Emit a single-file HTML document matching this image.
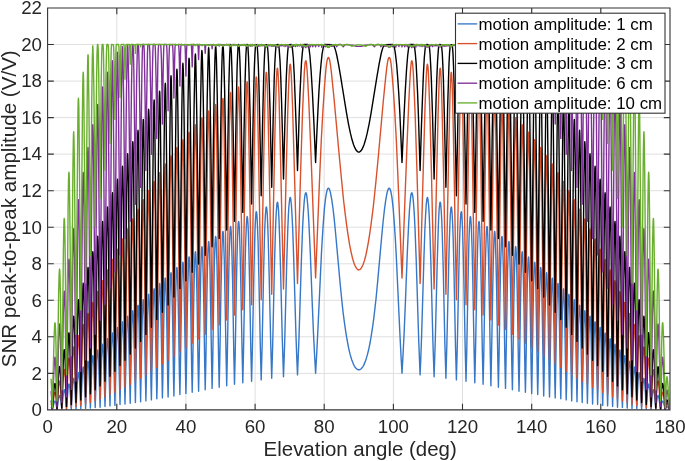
<!DOCTYPE html>
<html><head><meta charset="utf-8"><title>SNR peak-to-peak amplitude</title>
<style>
html,body{margin:0;padding:0;background:#fff;}
body{width:685px;height:461px;overflow:hidden;}
svg{display:block;will-change:transform;}
text{font-family:"Liberation Sans",sans-serif;fill:#262626;}
.tk{font-size:18.7px;}
.lb{font-size:20.6px;}
.lg{font-size:16.85px;fill:#000;}
</style></head><body>
<svg width="685" height="461" viewBox="0 0 685 461">
<rect x="0" y="0" width="685" height="461" fill="#fff"/>
<path d="M116.8 8 V409.9M185.9 8 V409.9M255.1 8 V409.9M324.2 8 V409.9M393.4 8 V409.9M462.5 8 V409.9M531.7 8 V409.9M600.8 8 V409.9M47.6 373.4 H670M47.6 336.8 H670M47.6 300.3 H670M47.6 263.8 H670M47.6 227.2 H670M47.6 190.7 H670M47.6 154.1 H670M47.6 117.6 H670M47.6 81.1 H670M47.6 44.5 H670" stroke="#dfdfdf" stroke-width="1" fill="none"/>
<clipPath id="cp"><rect x="47.6" y="8.0" width="622.4" height="401.9"/></clipPath>
<g clip-path="url(#cp)" fill="none" stroke-linejoin="round" stroke-linecap="butt">
<path d="M51.1 406.8L51.7 407.8L52.3 409.9L54.1 402.6L54.6 401.4L54.9 401.1L55.1 401.1L55.3 401.4L55.6 401.8L56 403.4L57 409.8L58.6 398.3L59.1 396.1L59.4 395.6L59.6 395.4L59.9 395.7L60.1 396.4L60.6 398.9L61.1 402.9L61.8 409.7L63.3 393.9L63.8 390.8L64 390L64.3 389.7L64.5 390L64.8 390.9L65.3 394.3L65.8 399.7L66.5 409.5L68 389.5L68.5 385.4L68.7 384.3L69 384L69.2 384.4L69.5 385.4L70 389.7L70.5 396.1L71.3 409.3L72.2 392.8L72.7 384.9L73.2 379.9L73.5 378.7L73.7 378.3L74 378.8L74.2 380.2L74.7 385.4L75.2 393.2L76 409.1L77.4 380.6L78 374.6L78.2 373.1L78.5 372.6L78.7 373.1L79 374.6L79.5 380.6L80 390L80.8 408.8L82.2 376.1L82.7 369.2L83 367.5L83.2 366.9L83.5 367.4L83.7 369.2L84.2 376L84.7 386.6L85.6 408.4L87 371.4L87.5 363.8L87.8 361.8L88 361.2L88.3 361.9L88.5 363.9L89 371.5L89.5 383L90.4 408.1L91.8 366.8L92.4 358.4L92.6 356.2L92.9 355.6L93.1 356.2L93.4 358.5L93.9 366.9L94.3 379.5L95.2 407.6L96.7 362.1L97.2 352.9L97.5 350.6L97.6 350L97.7 349.9L98 350.7L98.2 353.1L98.7 362.3L100.1 407.2L101.6 357.7L102.1 347.6L102.4 345L102.6 344.2L102.8 345L103.1 347.6L103.6 357.4L105 406.6L106.5 353.3L107 342.1L107.3 339.4L107.4 338.8L107.5 338.6L107.8 339.5L108 342.3L108.5 352.9L110 405.9L111.4 348.5L112 336.9L112.2 333.9L112.5 333L112.6 333.2L112.7 333.8L113 336.7L113.5 348.3L114.9 405.4L116.4 343.9L117 331.3L117.2 328.3L117.4 327.6L117.5 327.4L117.7 328.4L118 331.5L118.5 343.8L120 404.6L121.5 339.1L122 325.9L122.3 322.8L122.4 322L122.5 321.8L122.8 322.8L123 326.1L123.6 339L125 404.1L126.6 334.3L127.1 320.6L127.4 317.2L127.5 316.5L127.6 316.2L127.8 316.5L127.9 317.5L128.1 321L128.7 334.7L130.2 403.3L131.7 330.3L132.3 315.6L132.5 312L132.7 311L132.8 310.7L132.9 311L133 311.9L133.3 315.5L133.8 329.6L135.4 402.6L136.9 325.3L137.5 310.2L137.7 306.5L137.9 305.5L138 305.2L138.1 305.5L138.3 306.4L138.5 310.2L139.1 325.3L140.6 401.8L142.2 321L142.8 304.8L143 301L143.2 300L143.3 299.7L143.4 300L143.6 301L143.8 304.8L144.3 320.4L145.9 400.9L147.6 316.2L148.1 299.6L148.4 295.6L148.5 294.6L148.7 294.3L148.8 294.5L148.9 295.5L149.2 299.7L149.7 315.8L150.3 341.1L151 386.1L151.4 399.9L153 311.8L153.6 294.6L153.8 290.2L154 289.2L154.1 288.8L154.2 289.1L154.4 290.1L154.6 294.3L155.2 311.4L156.8 398.8L157.2 384.1L158 334.2L158.5 306.9L159.1 289L159.4 284.7L159.5 283.7L159.6 283.4L159.8 283.7L159.9 284.8L160.2 289.2L160.7 306.7L161.3 333.1L162.1 382.1L162.4 397.9L162.8 381.2L163.6 330.3L164.2 302.5L164.7 284.1L165 279.6L165.1 278.4L165.3 278.1L165.4 278.5L165.6 279.6L165.8 284.2L166.4 302L166.9 328.9L167.7 379.7L168.1 397L168.5 378.4L169.3 326.7L169.9 298.3L170.5 279L170.7 274.3L170.9 273.1L171 272.7L171.2 273.1L171.3 274.2L171.6 278.7L172.1 297.1L172.7 324.1L173.5 377.6L173.9 396L174.3 376.3L175.2 321.9L175.7 293.3L176.3 273.9L176.6 268.9L176.8 267.8L176.9 267.4L177 267.8L177.2 269L177.5 273.5L178 292.6L178.6 321L179.4 375L179.9 394.6L180.3 374.6L181.2 317.7L181.7 288.2L182.3 268.7L182.6 263.8L182.8 262.6L182.9 262.2L183 262.5L183.2 263.6L183.5 268.4L184.1 288.2L184.6 316.8L185.5 372.2L185.9 393.6L186.4 372.4L187.3 313.1L187.9 283.5L188.5 263.5L188.8 258.6L188.9 257.3L189.1 256.9L189.2 257.3L189.4 258.6L189.7 263.7L190.3 283.9L190.8 312.5L191.7 370.1L192.2 392.3L192.7 369.4L193.6 309.1L194.2 279.4L194.8 258.6L195.1 253.4L195.3 252.1L195.4 251.7L195.5 252.1L195.7 253.4L196 258.3L196.6 278.7L197.2 308L198.1 367.5L198.6 391.2L199.1 367.1L200.1 305.8L200.7 275.2L201.3 253.7L201.6 248.4L201.8 247.1L201.9 246.6L202.1 247L202.2 248.3L202.5 253.5L203.2 274.7L203.8 304L204.7 364.2L205.2 389.8L205.8 364.7L206.8 300.8L207.4 270.6L208 248.7L208.4 243.2L208.5 241.9L208.7 241.5L208.8 241.9L209 243.1L209.3 248.5L210 270L210.5 299.9L211.6 362.4L212.1 388.4L212.7 362.9L213.7 296.9L214.3 266.1L215 243.6L215.3 238.2L215.5 236.8L215.7 236.4L215.8 236.8L216 238.2L216.3 243.7L217 265.4L217.6 295.6L218.6 359.2L219.2 387.2L219.8 359.2L220.9 293.2L221.6 261.3L222.3 238.7L222.6 233.1L222.8 231.8L222.9 231.4L223.1 231.7L223.3 233L223.6 238.4L224.3 260.5L224.9 290.8L226.1 356.9L226.7 385.8L227.3 356.8L228.5 288.6L229.1 257.4L229.9 234L230.2 228.3L230.4 226.9L230.6 226.4L230.7 226.8L230.9 228L231.3 233.5L231.6 242.7L232 256L232.7 286.2L233.8 354.2L234.5 384.3L235.2 354.5L236.4 284.6L237.1 252.8L237.5 238.9L237.9 229.2L238.2 223.4L238.4 221.9L238.6 221.4L238.8 221.9L239 223.3L239.4 228.9L239.7 238.3L240.1 251.9L240.8 282.7L242.1 351.8L242.8 382.7L243.5 351.8L244.8 280.2L245.5 248.2L246 234.3L246.4 224.3L246.8 218.5L247 217L247.2 216.6L247.4 217L247.6 218.5L248 224.2L248.4 233.6L248.8 247.1L249.5 277.8L250.8 348.9L251.6 381.3L252.4 349.1L253.8 276L254.6 244.2L255 229.8L255.5 219.9L255.9 213.8L256.1 212.2L256.3 211.7L256.5 212.1L256.8 213.6L257.2 219.5L257.6 229.2L258.1 243L258.8 273.3L260.3 345.8L261.2 379.9L262.1 346.5L263.6 271.9L264.4 239.5L264.9 225.2L265.4 214.9L265.9 208.9L266.1 207.4L266.3 206.9L266.5 207.4L266.8 208.9L267.3 214.7L267.7 224.7L268.2 238.5L269 269L270.7 342.6L271.7 378.2L272.7 344.3L274.4 267.3L275.3 235.4L275.8 220.9L276.4 210.5L276.9 204.2L277.2 202.7L277.4 202.2L277.7 202.6L277.9 204.1L278.5 209.8L279 219.6L279.5 233.6L280.4 263.7L282.3 339.6L283.5 376.7L284.7 341.7L286.7 263.5L287.7 231.7L288.3 216.9L288.9 206.2L289.6 199.7L289.9 198.1L290 197.6L290.2 197.5L290.3 197.6L290.5 197.9L290.8 199.3L291.4 205L292 214.7L292.7 228.8L293.7 258.8L296 336.3L296.8 358.2L297.5 374.9L298.9 340.1L301.4 259.8L302.6 227.9L303.4 212.6L304.2 201.6L304.6 197.9L305 195.1L305.4 193.4L305.6 193L305.8 192.8L306 192.9L306.2 193.2L306.6 194.6L306.9 196.9L307.3 200.3L308.1 209.8L308.9 223.1L310.3 252.7L312.3 304.9L313.4 331.5L314.6 355.4L315.6 373.2L316.6 355.7L317.7 333.8L321.4 254.4L322.3 238.2L323.2 224.6L324.4 208.6L325.1 202.3L325.7 197.3L326.4 193.4L327 190.6L327.7 188.8L328 188.4L328.4 188.2L328.6 188.3L328.9 188.5L329.5 189.4L330 191.1L330.6 193.3L331.8 199.8L333.1 209.2L334.3 219.8L335.6 233.2L340.1 283.3L342 302.3L343.2 313.3L344.5 323.2L345.8 332.1L347.1 340L348.6 347.8L350.1 354.4L351.7 359.8L353.4 364.1L354.3 365.8L355.1 367.2L356 368.3L356.9 369.1L357.8 369.6L358.7 369.8L359.6 369.7L360.5 369.3L361.2 368.7L362 367.8L362.7 366.8L363.5 365.6L364.9 362.4L366.3 358.4L367.7 353.6L369 348L370.3 341.5L371.5 334.1L372.7 326.4L373.8 318.1L376 299L377.6 282.1L381.9 234.3L383.2 220.8L384.4 210L385.7 200.3L386.9 193.6L387.5 191.2L388.1 189.6L388.6 188.6L388.9 188.3L389.2 188.2L389.5 188.4L389.9 188.8L390.6 190.5L391.2 193.3L391.9 197.2L392.5 202.3L393.2 208.6L394.4 224.6L395.3 238.2L396.2 254.4L399.9 333.8L401 355.7L402 373.2L403 355.4L404.2 331.5L405.3 304.9L407.3 252.7L408.7 223.1L409.5 209.8L410.3 200.3L410.7 196.9L411 194.6L411.4 193.2L411.6 192.9L411.8 192.8L412 193L412.2 193.4L412.6 195.1L413 197.9L413.4 201.6L414.2 212.6L415 227.9L416.2 259.8L418.7 340.1L420.1 374.9L420.8 358.2L421.6 336.3L423.9 258.8L424.9 228.8L425.6 214.7L426.2 205L426.8 199.3L427.1 197.9L427.3 197.6L427.4 197.5L427.6 197.6L427.7 198.1L428 199.7L428.7 206.2L429.3 216.9L429.9 231.7L430.9 263.5L432.9 341.7L434.1 376.7L435.3 339.6L437.2 263.7L438.1 233.6L438.6 219.6L439.1 209.8L439.7 204.1L439.9 202.6L440.2 202.2L440.4 202.7L440.7 204.2L441.2 210.5L441.8 220.9L442.3 235.4L443.2 267.3L444.9 344.3L445.9 378.2L446.9 342.6L448.6 269L449.4 238.5L449.9 224.7L450.3 214.7L450.8 208.9L451.1 207.4L451.3 206.9L451.5 207.4L451.7 208.9L452.2 214.9L452.7 225.2L453.2 239.5L454 271.9L455.5 346.5L456.4 379.9L457.3 345.8L458.8 273.3L459.5 243L460 229.2L460.4 219.5L460.8 213.6L461.1 212.1L461.3 211.7L461.5 212.2L461.7 213.8L462.1 219.9L462.6 229.8L463 244.2L463.8 276L465.2 349.1L466 381.3L466.8 348.9L468.1 277.8L468.8 247.1L469.2 233.6L469.6 224.2L470 218.5L470.2 217L470.4 216.6L470.6 217L470.8 218.5L471.2 224.3L471.6 234.3L472.1 248.2L472.8 280.2L474.1 351.8L474.8 382.7L475.5 351.8L476.8 282.7L477.5 251.9L477.9 238.3L478.2 228.9L478.6 223.3L478.8 221.9L479 221.4L479.2 221.9L479.4 223.4L479.7 229.2L480.1 238.9L480.5 252.8L481.2 284.6L482.4 354.5L483.1 384.3L483.8 354.2L484.9 286.2L485.6 256L486 242.7L486.3 233.5L486.7 228L486.9 226.8L487 226.4L487.2 226.9L487.4 228.3L487.7 234L488.5 257.4L489.1 288.6L490.3 356.8L490.9 385.8L491.5 356.9L492.7 290.8L493.3 260.5L494 238.4L494.3 233L494.5 231.7L494.7 231.4L494.8 231.8L495 233.1L495.3 238.7L496 261.3L496.7 293.2L497.8 359.2L498.4 387.2L499 359.2L500 295.6L500.6 265.4L501.3 243.7L501.6 238.2L501.8 236.8L501.9 236.4L502.1 236.8L502.3 238.2L502.6 243.6L503.3 266.1L503.9 296.9L504.9 362.9L505.5 388.4L506 362.4L507.1 299.9L507.6 270L508.3 248.5L508.6 243.1L508.8 241.9L508.9 241.5L509.1 241.9L509.2 243.2L509.6 248.7L510.2 270.6L510.8 300.8L511.8 364.7L512.4 389.8L512.9 364.2L513.8 304L514.4 274.7L515.1 253.5L515.4 248.3L515.5 247L515.7 246.6L515.8 247.1L516 248.4L516.3 253.7L516.9 275.2L517.5 305.8L518.5 367.1L519 391.2L519.5 367.5L520.4 308L521 278.7L521.6 258.3L521.9 253.4L522.1 252.1L522.2 251.7L522.3 252.1L522.5 253.4L522.8 258.6L523.4 279.4L524 309.1L524.9 369.4L525.4 392.3L525.9 370.1L526.8 312.5L527.3 283.9L527.9 263.7L528.2 258.6L528.4 257.3L528.5 256.9L528.7 257.3L528.8 258.6L529.1 263.5L529.7 283.5L530.3 313.1L531.2 372.4L531.7 393.6L532.1 372.2L533 316.8L533.5 288.2L534.1 268.4L534.4 263.6L534.6 262.5L534.7 262.2L534.8 262.6L535 263.8L535.3 268.7L535.9 288.2L536.4 317.7L537.3 374.6L537.7 394.6L538.2 375L539 321L539.6 292.6L540.1 273.5L540.4 269L540.6 267.8L540.7 267.4L540.8 267.8L541 268.9L541.3 273.9L541.9 293.3L542.4 321.9L543.3 376.3L543.7 396L544.1 377.6L544.9 324.1L545.5 297.1L546 278.7L546.3 274.2L546.4 273.1L546.6 272.7L546.7 273.1L546.9 274.3L547.1 279L547.7 298.3L548.3 326.7L549.1 378.4L549.5 397L549.9 379.7L550.7 328.9L551.2 302L551.8 284.2L552 279.6L552.2 278.5L552.3 278.1L552.5 278.4L552.6 279.6L552.9 284.1L553.4 302.5L554 330.3L554.8 381.2L555.2 397.9L555.5 382.1L556.3 333.1L556.9 306.7L557.4 289.2L557.7 284.8L557.8 283.7L558 283.4L558.1 283.7L558.2 284.7L558.5 289L559.1 306.9L559.6 334.2L560.4 384.1L560.8 398.8L562.4 311.4L563 294.3L563.2 290.1L563.4 289.1L563.5 288.8L563.6 289.2L563.8 290.2L564 294.6L564.6 311.8L566.2 399.9L566.6 386.1L567.3 341.1L567.9 315.8L568.4 299.7L568.7 295.5L568.8 294.5L568.9 294.3L569.1 294.6L569.2 295.6L569.5 299.6L570 316.2L571.7 400.9L573.3 320.4L573.8 304.8L574 301L574.2 300L574.3 299.7L574.4 300L574.6 301L574.8 304.8L575.4 321L577 401.8L578.5 325.3L579.1 310.2L579.3 306.4L579.5 305.5L579.6 305.2L579.7 305.5L579.9 306.5L580.1 310.2L580.7 325.3L582.2 402.6L583.8 329.6L584.3 315.5L584.6 311.9L584.7 311L584.8 310.7L584.9 311L585.1 312L585.3 315.6L585.9 330.3L587.4 403.3L588.9 334.7L589.5 321L589.7 317.5L589.8 316.5L590 316.2L590.1 316.5L590.2 317.2L590.5 320.6L591 334.3L592.6 404.1L594 339L594.6 326.1L594.8 322.8L595.1 321.8L595.2 322L595.3 322.8L595.6 325.9L596.1 339.1L597.6 404.6L599.1 343.8L599.6 331.5L599.9 328.4L600.1 327.4L600.2 327.6L600.4 328.3L600.6 331.3L601.2 343.9L602.7 405.4L604.1 348.3L604.6 336.7L604.9 333.8L605 333.2L605.1 333L605.4 333.9L605.6 336.9L606.2 348.5L607.6 405.9L609.1 352.9L609.6 342.3L609.8 339.5L610.1 338.6L610.2 338.8L610.3 339.4L610.6 342.1L611.1 353.3L612.6 406.6L614 357.4L614.5 347.6L614.8 345L615 344.2L615.2 345L615.5 347.6L616 357.7L617.5 407.2L618.9 362.3L619.4 352.9L619.7 350.6L619.8 350L619.9 349.9L620.1 350.7L620.4 353.1L620.9 362.5L622.4 407.6L623.3 379.5L623.7 366.9L624.2 358.5L624.5 356.2L624.7 355.6L625 356.2L625.2 358.4L625.8 366.8L627.2 408.1L628.1 383L628.6 371.5L629.1 363.9L629.3 361.9L629.6 361.2L629.8 361.8L630.1 363.8L630.6 371.4L632 408.4L632.9 386.6L633.4 376L633.9 369.2L634.1 367.4L634.4 366.9L634.6 367.5L634.9 369.2L635.4 376.1L636.8 408.8L637.6 390L638.1 380.6L638.6 374.6L638.9 373.1L639.1 372.6L639.4 373.1L639.6 374.6L640.2 380.6L641.6 409.1L642.4 392.9L642.9 385.2L643.4 380.1L643.7 378.7L643.9 378.3L644.1 378.7L644.4 380L644.9 385.1L645.4 392.8L646.3 409.3L647.1 396.1L647.6 389.7L648.1 385.4L648.4 384.3L648.6 384L648.9 384.4L649.1 385.5L649.7 389.7L651.1 409.5L651.8 399.7L652.3 394.3L652.8 390.9L653.1 390L653.3 389.7L653.6 390L653.8 390.8L654.4 394.1L655.8 409.7L656.5 402.8L657 398.8L657.5 396.3L657.8 395.7L658 395.4L658.3 395.6L658.5 396.2L659 398.5L660.6 409.8L661.2 405.7L661.6 403.2L662.1 401.6L662.4 401.2L662.6 401.1L662.8 401.2L663.1 401.5L663.6 402.8L665.3 409.9L665.7 408.3L666.1 407.4L666.5 406.8L667 406.6L667.3 406.7L667.7 407.1L669.3 409.5L669.6 409.8L670 409.9" stroke="#3677c8" stroke-width="1.4"/>
<path d="M51.1 403.6L51.4 404.4L51.6 405.6L52.3 409.8L54.1 395.4L54.6 392.9L54.8 392.4L55 392.3L55.1 392.4L55.3 392.8L55.5 393.7L56 396.8L57 409.5L58.6 386.7L59.1 382.3L59.4 381.3L59.5 381L59.6 381L59.9 381.6L60.1 382.8L60.6 387.6L61.1 395L61.8 409L63.3 377.7L63.8 371.6L64 370.1L64.2 369.7L64.3 369.6L64.5 370.3L64.8 371.9L65.3 378.4L65.7 388.2L66.5 408.4L68 368.8L68.5 360.8L68.7 358.9L68.9 358.4L69 358.3L69.2 359L69.5 361.1L70 369.2L71.3 407.5L72.7 360.1L73.2 350.2L73.5 347.8L73.7 347L73.9 347.8L74.2 350.2L74.7 359.7L76 406.6L77.5 350.6L78 339.4L78.2 336.7L78.5 335.7L78.7 336.7L78.9 339.5L79.4 350.6L80.8 405.5L82.2 341.6L82.7 328.8L83 325.6L83.2 324.5L83.4 324.8L83.5 325.6L83.7 328.8L84.2 341.3L85.6 404L87.1 332.3L87.6 318.1L87.8 314.6L87.9 313.7L88 313.4L88.3 314.7L88.5 318.3L89 332.5L90.4 402.6L91.9 323.3L92.4 307.6L92.6 303.7L92.7 302.7L92.9 302.4L93.1 303.6L93.3 307.4L93.8 322.6L95.2 400.9L96.7 314L97.2 297L97.5 292.8L97.7 291.5L97.8 291.8L97.9 292.9L98.2 297.1L98.7 313.7L100.1 399.1L101.6 304.6L102.1 286.4L102.4 282L102.6 280.7L102.8 282.1L103.1 286.5L103.5 304.2L105 396.9L106.5 296L107 276.4L107.3 271.6L107.5 270L107.6 270.3L107.7 271.4L108 275.9L108.5 294.6L109.6 375.9L110 394.5L111.5 286.8L112 266.1L112.2 261.1L112.5 259.5L112.7 260.9L112.9 265.8L113.4 285.6L114.6 371.2L114.9 392.3L116.5 277.2L117 256.2L117.2 250.9L117.5 249.1L117.6 249.4L117.7 250.6L117.9 255.6L118.4 276.2L119.6 366.9L120 389.5L121.6 268.2L122 246.3L122.3 240.7L122.5 238.9L122.6 239.2L122.7 240.4L123 245.7L123.5 267.2L125 387.2L125.5 358.3L126.7 259.3L127.1 236.6L127.4 230.8L127.5 229.3L127.6 228.9L127.9 230.6L128.1 236.4L128.6 258.1L129.7 355.4L130.2 384.3L130.6 352.9L131.8 250.8L132.3 227.1L132.5 221L132.8 219L133 220.7L133.2 226.5L133.7 249.8L134.9 350L135.4 381.4L135.8 348L137 241.9L137.5 217.6L137.8 211.4L137.9 209.8L138 209.3L138.2 211.1L138.5 217.1L139 241L140.1 343.4L140.6 378.3L141.1 342.6L142.3 232.9L142.8 208.2L143.1 201.9L143.2 200.3L143.3 199.8L143.5 201.7L143.8 207.8L144.2 232.2L145.4 337.8L145.9 374.9L146.4 337.4L147.7 224.5L148.2 199.2L148.4 192.7L148.7 190.5L148.9 192.3L149.1 198.4L149.6 223L150.8 332.9L151.4 371.3L151.9 331.4L153.1 215.8L153.6 190.3L153.9 183.7L154.1 181.4L154.3 183.3L154.6 189.4L155.1 214.2L156.8 367.4L157.4 326.9L158.7 207.5L159.1 181.7L159.4 175L159.6 172.6L159.8 173.1L159.9 174.6L160.1 181L160.6 206.3L161.9 323.6L162.4 363.8L164.3 200.2L164.8 173.1L165 166.4L165.3 164L165.4 164.4L165.5 166L165.8 172.3L166.2 197.5L168.1 360.3L170 191.1L170.5 164.4L170.8 157.8L171 155.6L171.1 156.1L171.3 157.8L171.5 164.2L172 189.5L173.9 356.3L175.9 184.5L176.4 157.2L176.6 149.9L176.9 147.5L177 147.9L177.1 149.4L177.4 155.6L177.9 181.5L179.9 351.8L180.4 307.8L181.9 175.4L182.4 148.8L182.7 141.8L182.9 139.7L183 140.2L183.1 141.7L183.4 148.5L183.9 174.8L185.9 347.8L188 168.5L188.6 141.2L188.8 134.3L189.1 132.1L189.2 132.5L189.3 134L189.6 140.6L190.1 167.3L192.2 343.3L194.3 161.5L194.9 134.3L195.1 127.2L195.4 124.8L195.5 125.2L195.6 126.6L195.9 132.9L196.4 158.7L198.6 339L200.9 153.5L201.4 126.5L201.7 119.9L201.8 118.2L201.9 117.7L202 118.2L202.2 119.9L202.4 126.5L203 152.3L205.2 334.2L207.6 147.4L208.1 120.5L208.4 113.3L208.6 111L208.8 111.3L208.9 112.8L209.2 119.4L209.7 145.1L212.1 329.5L214.5 140.7L215.1 113.8L215.4 106.9L215.5 105.2L215.6 104.5L215.8 104.9L215.9 106.4L216.2 112.7L216.7 138.3L219.2 325L221.8 133.9L222.4 107.3L222.6 100.8L222.8 99L222.9 98.4L223.1 98.8L223.2 100.2L223.5 106.3L224.1 131.6L226.7 320.1L229.4 127.7L230 101.5L230.3 94.8L230.4 93.1L230.6 92.5L230.7 93L230.8 94.4L231.1 100.7L231.7 125.8L234.5 315L237.4 122.1L238 95.7L238.3 89.1L238.5 87.5L238.6 87L238.7 87.4L238.9 88.9L239.2 94.8L239.8 119L242.8 309.7L245 169.5L245.9 115.9L246.5 90.5L246.8 83.9L247 82.3L247.1 81.8L247.3 82.2L247.5 83.7L247.8 89.6L248.4 113.7L249.3 162.1L251.6 304.7L253.8 170.6L254.8 116L255.6 86.8L255.9 79.5L256.1 77.7L256.3 76.9L256.5 77.4L256.7 78.9L257 85.5L257.7 112.1L258.7 162.8L261.2 299.7L263.5 170.6L264.6 115.6L265.1 94.8L265.5 83L265.9 75.1L266.1 73L266.3 72.3L266.5 72.9L266.7 74.6L267.1 81.7L267.5 92.6L268 112L269.1 162.6L271.7 294.3L274 178.9L275 130.1L276.1 88.3L276.5 77.8L276.9 71.3L277.1 69L277.4 68.1L277.5 68.3L277.6 68.8L277.9 71L278.4 80.2L279 95.8L280.4 152.4L283.5 289.1L286.2 171.3L287.7 113.7L288.5 90.6L289.1 75.5L289.6 67.1L289.9 65L290.2 64.2L290.3 64.3L290.4 64.8L290.7 66.6L291.2 73.9L291.8 86.7L292.6 107.8L294 156.4L297.5 283.5L300.6 172.3L302.5 113.3L303.5 89.9L304.3 72.4L305 63.7L305.4 61.5L305.6 60.9L305.8 60.7L305.9 60.8L306.1 61.2L306.4 63L307.1 70L307.9 83.7L308.9 104L310.8 149.1L315.6 277.9L319.8 173.2L321.3 139.8L322.8 112.5L324.4 88L325.9 69.2L326.5 64.2L327.1 60.5L327.7 58.3L328 57.7L328.3 57.5L328.7 57.7L329.1 58.4L329.5 59.7L329.9 61.5L330.7 66.5L331.6 74.4L334 98.2L339.6 159.5L342.3 187.5L343.7 201.5L345.2 213.9L346.6 224.9L348 234.7L349.5 244.2L351.1 252.1L352.6 258.6L354.2 263.7L355 265.6L355.8 267.2L356.6 268.4L357.4 269.3L358.2 269.8L359 269.9L359.8 269.6L360.5 269L361.2 268.2L361.8 267.2L363.2 264.3L364.5 260.4L365.8 255.5L367 249.6L368.3 242.6L369.6 234.6L370.9 225.5L373.4 205.8L375.9 181.8L378.3 156.7L383.4 100L385.8 76.1L386.8 67.3L387.6 61.9L388 60L388.4 58.6L388.8 57.8L389.2 57.5L389.5 57.7L389.9 58.2L390.5 60.4L391.1 64L391.6 69.1L393.2 87.8L394.8 112.2L396.3 139.8L397.8 174L402 278L406.9 147.7L408.7 104L409.7 83.7L410.5 70L411.2 63L411.5 61.2L411.7 60.8L411.8 60.7L412 60.9L412.2 61.5L412.6 63.7L413.3 72.4L414.1 89.9L415.1 113.3L417 172.3L420.1 283.5L423.6 156.4L425 107.8L425.8 86.7L426.4 73.9L426.9 66.6L427.2 64.8L427.3 64.3L427.4 64.2L427.7 65L428 67.1L428.5 75.5L429.1 90.6L429.9 113.7L431.4 171.3L434.1 289.1L437 160.6L438.2 110.1L438.9 88.7L439.3 77.9L439.7 70.4L440 68.7L440.2 68.1L440.4 68.9L440.7 70.9L441.1 79L441.6 91.1L442.2 114.5L443.5 170.5L445.9 294.3L448.5 162.6L449.6 112L450.1 92.6L450.5 81.7L450.9 74.6L451.1 72.9L451.3 72.3L451.5 73L451.7 75.1L452.1 83L452.5 94.8L453 115.6L454.1 170.6L456.4 299.7L458.9 162.8L459.9 112.1L460.6 85.5L460.9 78.9L461.1 77.4L461.3 76.9L461.5 77.7L461.7 79.5L462 86.8L462.8 116L463.8 170.6L466 304.7L468.3 162.1L469.2 113.7L469.8 89.6L470.1 83.7L470.3 82.2L470.5 81.8L470.6 82.3L470.8 83.9L471.1 90.5L471.7 115.9L472.6 169.5L474.8 309.7L477.8 119L478.4 94.8L478.7 88.9L478.9 87.4L479 87L479.1 87.5L479.3 89.1L479.6 95.7L480.2 122.1L483.1 315L485.9 125.8L486.5 100.7L486.8 94.4L486.9 93L487 92.5L487.2 93.1L487.3 94.8L487.6 101.5L488.2 127.7L490.9 320.1L493.5 131.6L494.1 106.3L494.4 100.2L494.5 98.8L494.7 98.4L494.8 99L494.9 100.8L495.2 107.3L495.8 133.9L498.4 325L500.9 138.3L501.4 112.7L501.7 106.4L501.8 104.9L502 104.5L502.1 105.2L502.2 106.9L502.5 113.8L503.1 140.7L505.5 329.5L507.9 145.1L508.4 119.4L508.7 112.8L508.8 111.3L509 111L509.2 113.3L509.5 120.5L510 147.4L512.4 334.2L514.6 152.3L515.2 126.5L515.4 119.9L515.6 118.2L515.7 117.7L515.8 118.2L515.9 119.9L516.2 126.5L516.7 153.5L519 339L521.2 158.7L521.7 132.9L522 126.6L522.1 125.2L522.2 124.8L522.5 127.2L522.7 134.3L523.3 161.5L525.4 343.3L527.5 167.3L528 140.6L528.3 134L528.4 132.5L528.5 132.1L528.8 134.3L529 141.2L529.6 168.5L531.7 347.8L533.7 174.8L534.2 148.5L534.5 141.7L534.6 140.2L534.7 139.7L534.9 141.8L535.2 148.8L535.7 175.4L537.2 307.8L537.7 351.8L539.7 181.5L540.2 155.6L540.5 149.4L540.6 147.9L540.7 147.5L541 149.9L541.2 157.2L541.7 184.5L543.7 356.3L545.6 189.5L546.1 164.2L546.3 157.8L546.5 156.1L546.6 155.6L546.8 157.8L547.1 164.4L547.6 191.1L549.5 360.3L551.4 197.5L551.8 172.3L552.1 166L552.2 164.4L552.3 164L552.6 166.4L552.8 173.1L553.3 200.2L555.2 363.8L555.7 323.6L557 206.3L557.5 181L557.7 174.6L557.8 173.1L558 172.6L558.2 175L558.5 181.7L558.9 207.5L560.2 326.9L560.8 367.4L562.5 214.2L563 189.4L563.3 183.3L563.5 181.4L563.7 183.7L564 190.3L564.5 215.8L565.7 331.4L566.2 371.3L566.8 332.9L568 223L568.5 198.4L568.7 192.3L568.9 190.5L569.2 192.7L569.4 199.2L569.9 224.5L571.2 337.4L571.7 374.9L572.2 337.8L573.4 232.2L573.8 207.8L574.1 201.7L574.3 199.8L574.4 200.3L574.5 201.9L574.8 208.2L575.3 232.9L576.5 342.6L577 378.3L577.5 343.4L578.6 241L579.1 217.1L579.4 211.1L579.6 209.3L579.7 209.8L579.8 211.4L580.1 217.6L580.6 241.9L581.8 348L582.2 381.4L582.7 350L583.9 249.8L584.4 226.5L584.6 220.7L584.8 219L585.1 221L585.3 227.1L585.8 250.8L587 352.9L587.4 384.3L587.9 355.4L589 258.1L589.5 235.8L589.8 230.4L589.9 229.1L590 228.9L590.2 230.8L590.5 236.6L590.9 259.3L592.1 358.3L592.6 387.2L594.1 267.2L594.6 245.7L594.9 240.4L595 239.2L595.1 238.9L595.3 240.7L595.6 246.3L596 268.2L597.6 389.5L598 366.9L599.2 276.2L599.7 255.6L599.9 250.6L600 249.4L600.1 249.1L600.4 250.9L600.6 256.2L601.1 277.2L602.7 392.3L603 371.2L604.2 285.6L604.7 265.8L604.9 260.9L605.1 259.5L605.4 261.1L605.6 266.1L606.1 286.8L607.6 394.5L608 375.9L609.1 294.6L609.6 275.9L609.9 271.4L610 270.3L610.1 270L610.3 271.6L610.6 276.4L611.1 296L612.6 396.9L614.1 304.2L614.5 286.5L614.8 282.1L615 280.7L615.2 282L615.5 286.4L616 304.6L617.5 399.1L618.9 313.7L619.4 297.1L619.7 292.9L619.8 291.8L619.9 291.5L620.1 292.8L620.4 297L620.9 314L622.4 400.9L623.8 322.6L624.3 307.4L624.5 303.6L624.7 302.4L624.9 302.7L625 303.7L625.2 307.6L625.7 323.3L627.2 402.6L628.6 332.5L629.1 318.3L629.3 314.7L629.6 313.4L629.7 313.7L629.8 314.6L630 318.1L630.5 332.3L632 404L633.4 341.3L633.9 328.8L634.1 325.6L634.2 324.8L634.4 324.5L634.6 325.6L634.9 328.8L635.4 341.6L636.8 405.5L638.2 350.6L638.7 339.5L638.9 336.7L639.1 335.7L639.4 336.7L639.6 339.4L640.1 350.6L641.6 406.6L642.9 359.7L643.4 350.2L643.7 347.8L643.9 347L644.1 347.8L644.4 350.2L644.9 360.1L646.3 407.5L647.6 369.2L648.1 360.9L648.4 358.9L648.6 358.3L648.9 359L649.1 361L649.6 369.2L651.1 408.4L651.9 388.2L652.3 378.4L652.8 371.8L653.1 370.2L653.3 369.6L653.6 370.2L653.8 371.7L654.3 378L655.8 409L656.5 395L657 387.4L657.5 382.5L657.8 381.4L658 381L658.3 381.4L658.5 382.5L659 387.1L660.6 409.5L661.2 401.1L661.7 396.3L662.2 393.3L662.4 392.6L662.6 392.3L662.8 392.5L663.1 393.1L663.6 395.7L665.3 409.8L665.7 406.7L666.1 404.8L666.5 403.6L666.7 403.3L667 403.3L667.3 403.5L667.7 404.2L669.3 409.1L669.6 409.7L670 409.9" stroke="#d9512c" stroke-width="1.4"/>
<path d="M51.1 400.5L51.4 401.7L51.6 403.5L52.3 409.7L54.1 388.1L54.6 384.4L54.8 383.7L55 383.5L55.1 383.6L55.3 384.3L55.5 385.4L56 390L57 409.1L58.6 375.2L59.1 368.6L59.4 367.1L59.5 366.7L59.6 366.6L59.9 367.3L60.1 369.1L60.6 376.2L61.8 408L63.3 361.8L63.8 352.5L64 350.3L64.2 349.8L64.3 349.7L64.5 350.5L64.8 352.9L65.2 362.4L66.5 406.6L68 348L68.5 336.5L68.7 333.7L68.9 333L69 332.8L69.2 333.8L69.5 336.7L69.9 348.5L71.3 404.6L72.7 334.3L73.2 320.5L73.5 317.2L73.7 316.1L73.9 317.1L74.2 320.6L74.7 334.5L76 402.6L77.5 320.9L78 304.7L78.2 300.8L78.5 299.6L78.7 300.8L78.9 304.9L79.4 320.3L80.8 400L82.3 306.9L82.8 289.2L83 284.7L83.2 283.3L83.5 284.7L83.7 289.2L84.2 306.6L85.6 396.8L85.9 379L87.1 293.3L87.6 273.7L87.8 269L88 267.4L88.1 267.6L88.2 268.7L88.5 273.6L89 292.7L90.4 393.7L90.8 371.1L91.9 280.2L92.4 258.7L92.6 253.5L92.8 251.7L92.9 252L93.1 253.2L93.3 258.1L93.8 278.5L95.2 389.8L95.6 363.3L96.8 265.9L97.3 243.7L97.5 238.3L97.7 236.3L97.9 238.1L98.2 243.4L98.6 264.6L100.1 385.9L100.5 355.9L101.7 252.5L102.1 229L102.4 223.3L102.6 221.4L102.8 223.1L103 228.7L103.5 251.1L104.6 351.4L105 381.2L105.4 348L106.6 239.4L107.1 215.3L107.3 209.1L107.5 206.9L107.7 208.5L107.9 214.3L108.4 237.7L109.5 344L110 376.2L111.6 226.8L112 201.6L112.2 195L112.5 192.8L112.7 194.6L112.9 200.7L113.3 225.5L114.5 334.1L114.9 371.2L116.6 213.8L117 187.9L117.3 181.3L117.5 179.2L117.7 181L117.9 187.3L118.3 211.6L119.5 327.8L120 365.5L121.6 202L122.1 175.1L122.3 168.3L122.5 166.1L122.7 168L122.9 174.5L123.4 199.7L125 360.3L126.7 189.2L127.2 162.8L127.4 155.8L127.6 153.6L127.8 155.5L128 162.2L128.5 188.1L130.2 354.1L131.9 178.5L132.3 151.3L132.6 144L132.8 141.6L133 143.4L133.2 149.5L133.6 175.1L135.4 348L137.1 167.7L137.6 140L137.8 132.6L138 130.2L138.2 132.1L138.4 138.3L138.8 164.4L140.6 341.4L142.4 155.8L142.9 128.6L143.1 121.8L143.3 119.4L143.5 121.4L143.7 127.6L144.1 154.1L145.9 334.4L147.8 146.3L148.2 118.7L148.4 111.8L148.6 109.3L148.7 109.7L148.8 111.2L149.1 117.4L149.5 142.4L151.4 327.2L153.3 135.4L153.7 109.2L153.9 102.4L154.1 99.9L154.2 100.3L154.3 101.7L154.5 107.9L154.9 132.9L156.8 319.5L158.8 125.5L159.2 99.9L159.4 93.4L159.6 91.1L159.8 92.9L160 98.9L160.4 123.5L162.4 312.2L164.4 117.2L164.9 91.8L165.1 85.3L165.3 83.1L165.5 84.8L165.7 90.7L166.1 115L168.1 304.9L170.1 115.2L170.6 85.4L170.8 78.1L171 75.7L171.2 77.6L171.4 84.3L171.9 112.8L173.9 297L175.9 113.2L176.4 79.7L176.7 71.7L176.9 69.1L177.1 71.4L177.4 79.2L177.9 112.7L179.9 288.5L181.8 111.8L182.4 74.7L182.6 66.3L182.9 63.3L183 63.9L183.1 65.7L183.4 73.5L184 109.9L185.9 280.7L187.9 109.8L188.6 69.4L188.8 61.2L189 58.3L189.2 58.7L189.3 60.5L189.5 67.9L190.2 106.9L190.9 161.2L192.2 272.2L193.4 159.4L194.1 105.9L194.9 64.7L195.1 56.5L195.4 54L195.5 54.6L195.6 56.8L195.9 65.2L196.6 104.8L197.4 158.3L198.6 264.1L199.8 159.7L200.6 103L201.3 63.8L201.6 53.7L201.8 51.3L201.9 50.5L202 51.2L202.2 53.4L202.5 63.1L203.3 101L204 155.6L205.2 255.3L206.5 152.9L207.2 99.3L208 61.9L208.4 50.8L208.5 48.6L208.6 47.8L208.8 48.5L208.9 50.6L209.3 61.1L210.1 97.1L210.9 151L212.1 246.7L213.3 148.6L214.1 95.6L214.9 60.2L215.3 50L215.5 46.9L215.6 45.9L215.8 46.6L216 49.1L216.4 58.7L217.2 93.1L218 145.9L219.2 238.6L220.5 145.4L221.3 91.3L221.7 71.7L222.1 57.2L222.5 48.3L222.8 45.7L222.9 44.8L223.1 45.6L223.3 48L223.7 56.8L224.6 88.7L225.5 140.9L226.7 230L227.9 140.5L228.8 87.2L229.3 68.6L229.7 55.5L230.1 47.5L230.3 45.3L230.5 44.5L230.6 44.6L230.7 44.8L230.9 46.3L231.4 53.2L231.8 65.7L232.3 83.1L233.2 133.6L234.5 221.2L235.7 137.9L236.7 86L237.1 67.9L237.6 55.2L238 47.4L238.2 45.3L238.4 44.5L238.8 44.6L239 45.2L239.4 50L239.9 60.7L240.4 76.8L241.4 126.1L242.8 212.4L244 133.7L245 84L245.5 66.8L245.9 54.7L246.4 47.2L246.6 45.3L246.8 44.5L247.4 44.5L247.6 44.7L247.8 45.8L248 48L248.5 57.3L249 72L250.2 119.7L251.6 204L252.9 129.5L253.9 82.6L254.4 66.2L254.9 54.3L255.4 47.2L255.6 45.3L255.8 44.6L256.8 44.6L257.1 45.3L257.3 46.8L257.8 54.4L258.4 67.5L259 87.3L259.6 114.5L261.2 195.8L262.5 126.4L263.6 81.1L264.1 65.4L264.6 53.9L265.1 47.1L265.4 45.3L265.6 44.6L267 44.6L267.2 44.9L267.4 45.9L268 52.2L268.6 63.7L269.2 82.4L270 108.4L271.7 187.2L273.1 121.9L274.2 79.1L274.8 64L275.4 53.4L275.9 46.9L276.2 45.3L276.5 44.6L278.4 44.5L278.5 44.8L278.7 45.3L279 47.3L279.3 50.6L280 60.6L280.8 78.4L281.6 102.9L282.5 135.6L283.5 179L285 118.1L286.3 77.5L287 63.2L287.6 53.1L288.2 47L288.5 45.3L288.8 44.6L291.5 44.5L291.6 44.7L291.8 45L292.2 46.6L292.5 49.3L293.3 57.8L294.2 74.1L295.1 97.3L296.2 127.4L297.5 170.6L299.2 114.3L300 93.1L300.8 76.1L301.5 62.7L302.3 53.1L303 47.1L303.4 45.4L303.8 44.6L303.9 44.5L307.8 44.5L308.1 44.8L308.5 46.1L309 48.3L309.9 55.5L311.1 70.5L312.4 92.3L313.8 120.6L315.6 162.5L316.8 134.6L317.9 111.3L318.9 91.9L320 75.8L321.1 63.3L322.1 53.9L322.7 50.5L323.2 47.8L323.8 45.9L324.3 44.8L324.6 44.6L324.8 44.5L332.7 44.6L333.3 45L333.9 45.9L334.5 47.2L335.1 48.9L335.9 51.6L336.7 55L338.5 64.2L340.4 75.1L346.5 112.9L348.5 124.1L350.4 133.2L351.5 137.7L352.6 141.5L353.6 144.7L354.7 147.4L355.7 149.5L356.7 150.9L357.8 151.8L358.3 152L358.8 152.1L359.3 152L359.8 151.8L360.9 150.9L361.9 149.5L362.9 147.4L364 144.7L365 141.5L366.1 137.7L367.2 133.2L369.1 124.1L371.1 112.9L377.2 75.1L379.1 64.1L380.9 55L381.7 51.5L382.5 48.9L383.1 47.1L383.7 45.9L384.3 45L384.9 44.6L392.8 44.5L393.1 44.7L393.4 45L393.9 46.2L394.5 48.2L395 51L395.5 54.6L396.6 64L397.6 76.5L398.7 92.5L399.8 112L400.8 134.9L402 162.5L403.8 120.6L405.2 92L406.5 70.3L407.7 55.3L408.6 48.2L409.1 46.1L409.5 44.8L409.8 44.5L413.7 44.5L413.8 44.6L414.2 45.5L414.6 47.2L415.3 53.3L416.1 62.9L416.8 76.5L417.6 93.5L418.4 114.8L420.1 170.6L421.4 127.4L422.5 97.3L423.4 74.1L424.3 57.8L425.1 49.3L425.4 46.6L425.8 45L426 44.7L426.1 44.5L428.8 44.6L429.1 45.4L429.4 47.1L430 53.3L430.6 63.6L431.3 77.9L432.6 118.1L434.1 179L435.1 135.6L436 102.9L436.8 78.4L437.6 60.6L438.3 50.6L438.6 47.3L438.9 45.3L439.1 44.8L439.2 44.5L441.2 44.6L441.4 45.3L441.7 47L442.3 53.7L442.8 64.4L443.4 79.1L444.5 121.9L445.9 187.2L447.6 108.4L448.4 82.4L449 63.7L449.6 52.2L450.2 45.9L450.4 44.9L450.6 44.6L452 44.6L452.2 45.3L452.5 47.1L453 53.9L453.5 65.4L454 81.1L455.1 126.4L456.4 195.8L458 114.5L458.6 87.3L459.2 67.5L459.8 54.4L460.3 46.8L460.5 45.3L460.8 44.6L461.8 44.6L462 45.3L462.2 47.2L462.7 54.3L463.2 66.2L463.7 82.6L464.7 129.5L466 204L467.4 119.7L468.6 72L469.1 57.3L469.6 48L469.8 45.8L470 44.7L470.2 44.5L470.8 44.5L471 45.3L471.2 47.2L471.7 54.7L472.1 66.8L472.6 84L473.6 133.7L474.8 212.4L476.2 126.1L477.2 76.8L477.7 60.7L478.2 50L478.6 45.2L478.8 44.6L479.2 44.5L479.4 45.3L479.6 47.4L480 55.2L480.5 67.9L480.9 86L481.9 137.9L483.1 221.2L484.4 134.7L485.3 83.9L485.8 66.3L486.2 54L486.6 46.7L486.8 45L486.9 44.6L487 44.5L487.3 45.1L487.5 47L487.9 54.7L488.3 68L488.7 86.3L489.7 139.3L490.9 230L492.1 140.9L493 88.7L493.5 69.8L493.9 56.3L494.3 47.8L494.5 45.5L494.7 44.8L494.9 46.1L495.1 48.6L495.5 57.7L496.3 91.3L497.1 145.4L498.4 238.6L499.6 145.9L500.4 93.1L501.2 58.7L501.6 49.1L501.8 46.6L502 45.9L502.1 46.9L502.3 50L502.7 60.2L503.5 95.6L504.3 148.6L505.5 246.7L506.7 151L507.5 97.1L508.3 61.1L508.7 50.2L508.8 48.3L509 47.8L509.2 51.2L509.6 62.5L510.4 99.3L511.1 152.9L512.4 255.3L513.6 155.6L514.3 101L515.1 62.4L515.4 53.1L515.6 51L515.7 50.5L516 54.1L516.3 64.5L517 104.2L517.8 159.7L519 264.1L520.2 158.3L521 103.7L521.7 63.8L522 56.1L522.1 54.4L522.2 54L522.5 57.3L522.8 66.2L523.5 107.1L524.2 160.9L525.4 272.2L526.7 161.2L527.4 106.9L528.1 67.9L528.3 60.5L528.4 58.7L528.6 58.3L528.8 61.2L529 69.4L529.7 109.8L531.7 280.7L533.6 109.9L534.2 73.5L534.5 65.7L534.6 63.9L534.7 63.3L535 66.3L535.2 74.7L535.8 111.8L537.7 288.5L539.7 112.7L540.2 79.2L540.5 71.4L540.7 69.1L540.9 71.7L541.2 79.7L541.7 113.2L543.7 297L545.7 112.8L546.2 84.3L546.4 77.6L546.6 75.7L546.8 78.1L547 85.4L547.5 115.2L549.5 304.9L551.5 115L551.9 90.7L552.1 84.8L552.3 83.1L552.5 85.3L552.7 91.8L553.2 117.2L555.2 312.2L557.2 123.5L557.6 98.9L557.8 92.9L558 91.1L558.2 93.4L558.4 99.9L558.8 125.5L560.8 319.5L562.7 132.9L563.1 107.9L563.3 101.7L563.4 100.3L563.5 99.9L563.7 102.4L563.9 109.2L564.3 135.4L566.2 327.2L568.1 142.4L568.5 117.4L568.8 111.2L568.9 109.7L569 109.3L569.2 111.8L569.4 118.7L569.8 146.3L571.7 334.4L573.5 154.1L573.9 127.6L574.1 121.4L574.3 119.4L574.5 121.8L574.7 128.6L575.2 155.8L577 341.4L578.8 164.4L579.2 138.3L579.4 132.1L579.6 130.2L579.8 132.6L580 140L580.5 167.7L582.2 348L584 175.1L584.4 149.5L584.6 143.4L584.8 141.6L585 144L585.3 151.3L585.7 178.5L587.4 354.1L589.1 188.1L589.6 162.2L589.8 155.5L590 153.6L590.2 155.8L590.4 162.8L590.9 189.2L592.6 360.3L594.2 199.7L594.7 174.5L594.9 168L595.1 166.1L595.3 168.3L595.5 175.1L596 202L597.6 365.5L598.1 327.8L599.3 211.6L599.7 187.3L599.9 181L600.1 179.2L600.3 181.3L600.6 187.9L601 213.8L602.7 371.2L603.1 334.1L604.3 225.5L604.7 200.7L604.9 194.6L605.1 192.8L605.4 195L605.6 201.6L606 226.8L607.6 376.2L608.1 344L609.2 237.7L609.7 214.3L609.9 208.5L610.1 206.9L610.3 209.1L610.5 215.3L611 239.4L612.2 348L612.6 381.2L613 351.4L614.1 251.1L614.6 228.7L614.8 223.1L614.9 221.7L615 221.4L615.2 223.6L615.5 229.6L615.9 253.7L617.1 355.9L617.5 385.9L619 264.6L619.4 243.4L619.7 238.1L619.9 236.3L620.1 238.3L620.3 243.7L620.8 265.9L622 363.3L622.4 389.8L623.8 278.5L624.3 258.1L624.5 253.2L624.7 252L624.8 251.7L625 253.5L625.2 258.7L625.7 280.2L626.8 371.1L627.2 393.7L628.6 292.7L629.1 273.6L629.4 268.7L629.5 267.6L629.6 267.4L629.8 269L630 273.7L630.5 293.3L631.7 379L632 396.8L633.4 306.6L633.9 289.2L634.1 284.7L634.4 283.3L634.6 284.7L634.8 289.2L635.3 306.9L636.8 400L638.2 320.3L638.7 304.9L638.9 300.8L639.1 299.6L639.4 300.8L639.6 304.7L640.1 320.9L641.6 402.6L642.9 334.5L643.4 320.6L643.7 317.1L643.9 316.1L644.1 317.2L644.4 320.5L644.9 334.3L646.3 404.6L647.7 348L648.2 336.5L648.4 333.6L648.6 332.8L648.9 333.9L649.1 336.8L649.6 348.5L651.1 406.6L652.4 362.4L652.8 352.9L653.1 350.5L653.3 349.7L653.6 350.4L653.8 352.7L654.3 361.8L655.8 408L656.6 386.2L657.1 375.9L657.5 368.9L657.8 367.2L658 366.6L658.3 367.2L658.5 368.9L659 375.5L660.6 409.1L661.2 396.1L661.7 389.3L662.2 385L662.4 383.9L662.6 383.5L662.9 383.9L663.1 384.8L663.6 388.8L665.3 409.7L666.1 402.3L666.5 400.5L666.7 400.1L667 399.9L667.1 400L667.3 400.3L667.7 401.4L669.3 408.7L669.6 409.6L670 409.9" stroke="#000000" stroke-width="1.4"/>
<path d="M51.1 391.1L51.3 393.3L51.6 396.9L52.3 409.1L54.1 366.4L54.6 359L54.8 357.5L55 357.3L55.1 357.5L55.3 358.6L55.5 360.9L55.9 369.3L57 406.6L58.6 340.3L59.1 327.9L59.4 324.8L59.5 324.1L59.6 324L59.8 325.2L60.1 328.5L60.5 341.1L61.8 402.5L62.1 389.2L62.8 339.8L63.3 313.3L63.8 296.6L64 292.4L64.3 291.1L64.5 292.5L64.7 296.6L65.2 312.9L66.5 397L66.8 376.8L68 286.7L68.5 265.8L68.7 260.9L69 259.2L69.2 260.6L69.4 265.5L69.9 285L70.9 368.3L71.3 389.6L71.6 361.3L72.8 260L73.3 236.3L73.5 230.5L73.7 228.6L73.9 230.2L74.1 235.7L74.6 257.3L76 381.3L76.4 346.3L77.6 234.3L78 208.4L78.2 201.8L78.4 199.6L78.7 201.4L78.9 207.1L79.3 230.1L80.8 371.5L82.4 208.7L82.8 181.6L83 174.9L83.2 172.5L83.4 174.1L83.6 180.1L84 204.9L85.6 359.9L87.2 184.8L87.6 157L87.8 149.9L88 147.4L88.2 149.4L88.4 155.4L88.8 180.7L90.4 348L92 163.2L92.4 135L92.6 127.3L92.8 124.7L93 126.5L93.2 132.6L93.6 157.4L95.2 334.3L96.9 141.3L97.3 114.1L97.5 107L97.7 104.5L97.9 106.1L98 112.3L98.4 136.6L100.1 320.2L101.8 122.8L102.2 96.5L102.4 89.4L102.6 87L102.7 88.6L102.9 94.1L103.3 118.2L105 304.5L106.7 114.6L107.1 82.6L107.3 75L107.5 72.3L107.7 74.6L107.9 81.7L108.3 112.2L110 288.2L111.5 111.7L112 72.7L112.2 63.7L112.4 60.7L112.6 62.7L112.8 70.5L113.3 107.3L114.9 272.1L116.4 106.3L117 66.1L117.2 55.8L117.4 52.2L117.5 52.6L117.6 54.5L117.9 63.4L118.4 101.8L120 254.9L121.4 97.6L122 61.1L122.3 50.3L122.5 46.7L122.7 50L123 60.6L123.6 95.3L124.2 148.7L125 238.5L125.9 144L126.5 89.3L127.1 55.9L127.3 47.5L127.6 44.6L127.9 47.5L128.1 55.2L128.7 85.4L129.3 134.8L130.2 221.2L130.9 136.4L131.5 85.4L132.1 54.8L132.4 47L132.5 45.1L132.6 44.5L132.9 44.5L133 45L133.3 49L133.6 58.5L133.9 74L134.5 122.4L135.4 204.3L136.1 129.5L136.6 82.2L137.2 54L137.4 47L137.6 45.1L137.7 44.5L138.3 44.6L138.5 46.4L138.8 53.4L139.1 65.4L139.8 109.7L140.6 187.4L141.3 120.9L141.8 78.8L142.3 53L142.6 46.5L142.8 44.5L143.7 44.5L143.9 45.2L144.2 49.8L144.4 58.9L145.1 99.1L145.9 170.6L146.5 112.7L147.1 74.5L147.5 52.2L147.8 46.5L147.9 45L148 44.5L149.3 44.5L149.4 44.8L149.6 47.7L149.9 54.4L150.6 89.8L151.4 154.3L151.9 104.2L152.4 71L152.9 51.1L153.1 46.2L153.3 44.5L154.9 44.5L155 44.6L155.2 46.5L155.4 50.8L155.7 63L156.1 81.2L156.8 138.5L157.4 93.5L157.8 66.7L158.2 50.1L158.5 46L158.7 44.5L160.7 44.6L160.8 45.7L161 48.9L161.4 58.7L161.7 73.9L162.4 124L162.9 89L163.3 64L163.7 49.3L163.9 45.6L164.1 44.5L166.5 44.5L166.6 45.3L166.8 47.3L167.1 54.9L167.4 68.1L168.1 110.7L168.9 61.3L169.3 48.9L169.5 45.7L169.7 44.5L171 44.7L172.4 44.5L172.7 46.1L173 51.8L173.3 62.3L173.9 98L174.7 57.3L175 47.7L175.2 45.3L175.4 44.5L176.2 44.6L176.9 44.7L177.6 44.6L178.5 44.5L178.7 45.4L179 49.8L179.3 58.2L179.9 86.1L180.5 54.5L180.8 47L181 45.1L181.2 44.5L182.1 44.6L182.8 44.8L183.8 44.6L184.8 44.5L184.9 45L185.2 48.2L185.4 54.4L185.9 76L186.5 52.2L186.8 46.5L186.9 45L187.1 44.5L188.3 44.6L189 45L189.7 44.6L190.4 44.6L191.2 44.6L191.3 44.8L191.5 46.8L191.7 51.4L192.2 66.9L192.7 50.2L192.9 46L193.2 44.5L193.9 44.6L194.2 44.5L194.6 44.6L195.2 45.1L196.3 44.8L196.6 44.5L197.3 44.6L197.7 44.5L197.8 44.6L198 45.8L198.2 48.8L198.6 59.5L199 48.2L199.2 45.4L199.4 44.5L200.1 44.6L200.4 44.8L200.8 44.7L201.1 44.8L202.2 45.3L202.5 44.8L202.9 44.6L203.5 44.6L203.9 44.7L204.2 44.6L204.6 44.9L204.8 45.6L204.9 47.2L205.2 53.3L205.7 45.5L205.8 44.7L206.3 44.6L206.7 44.7L207 44.6L207.3 44.7L207.7 44.7L208 44.8L208.4 45.3L208.7 45.3L209.4 45L209.8 44.6L210.1 44.8L210.5 44.7L210.8 44.8L211.2 44.6L211.5 44.7L211.6 44.7L211.9 45.7L212.1 48.8L212.5 44.7L212.6 44.6L212.9 44.8L213.2 44.5L213.6 44.9L213.9 44.6L214.3 44.9L214.6 44.8L215.3 45.1L215.6 45.6L216 45.1L216.3 45.1L216.7 44.8L217 45L217.4 44.6L217.7 45.1L218.1 44.6L218.4 44.9L218.8 44.5L219 44.5L219.1 44.9L219.2 46L219.5 44.6L220.1 44.7L220.5 44.5L220.8 44.9L221.2 44.8L221.5 45.1L221.9 44.6L222.2 45.5L222.6 45.2L222.9 46.2L223.3 45.3L223.6 45.8L223.9 44.7L224.3 45.2L224.6 44.6L225 44.8L225.3 44.7L226 44.8L226.4 44.6L226.6 44.5L226.7 44.6L226.8 44.5L227.1 44.6L227.4 44.8L227.8 44.6L228.4 45L228.8 44.6L229.1 45.5L229.5 44.6L229.8 45.3L230.2 45.2L230.5 45.8L230.9 45.4L231.2 45.5L231.6 44.9L231.9 45.1L232.2 44.6L232.6 44.8L233.3 44.7L233.6 45.4L234 44.5L234.7 44.8L235 44.6L235.4 45.3L235.7 44.7L236 44.6L236.4 45.1L236.7 44.7L237.1 45L237.4 44.8L237.8 44.9L238.1 45.7L238.8 45.9L239.2 45.8L239.5 44.9L239.9 44.9L240.2 44.7L240.5 44.6L240.9 45.5L241.2 44.6L241.6 44.8L241.9 45.2L242.3 44.6L243 44.9L243.3 44.7L243.7 45.1L244.3 44.6L244.7 45.3L245 44.8L245.4 44.5L245.7 45.7L246.1 44.8L246.4 45L246.8 46.4L247.1 45.6L247.5 46L248.2 44.7L248.5 45.9L248.8 44.6L249.2 45L249.5 45.7L249.9 44.7L250.2 44.5L250.6 46L250.9 44.6L251.3 44.6L251.6 45.8L252 44.6L252.3 44.5L252.6 45.7L253 44.7L253.3 44.8L253.7 45.2L254 45.3L254.4 44.7L254.7 45.5L255.1 45L255.4 45L255.8 46.3L256.1 45.7L256.4 45.7L256.8 46.3L257.1 45.1L257.5 44.9L257.8 46L258.2 44.6L258.5 44.6L258.9 46.3L259.2 44.6L259.6 44.9L259.9 45.5L260.3 44.8L260.6 44.7L260.9 44.9L261.3 45.5L261.6 44.5L262 44.6L262.3 45.7L263 44.7L263.4 45.1L263.7 45.6L264.1 44.6L264.4 45.3L264.7 45.7L265.1 44.9L265.4 46L265.8 45.6L266.1 46.1L266.5 46.2L266.8 45.5L267.2 46.2L267.5 45L267.9 45.6L268.2 45.4L268.6 44.6L268.9 45.4L269.2 45.8L269.6 44.6L269.9 44.6L270.3 45.9L270.6 44.9L271.3 44.7L271.7 46.3L272 44.8L272.4 45L272.7 44.7L273 46.2L273.4 44.8L273.7 44.7L274.4 46.1L274.8 44.8L275.1 45.8L275.5 44.7L275.8 46.1L276.2 45.7L276.9 45.4L277.2 46.9L277.5 47L277.9 45.7L278.2 45.4L278.6 46.2L278.9 46.3L279.3 44.9L280 45.2L280.3 45.8L280.7 45.1L281 45.5L281.3 44.6L282 45.9L282.4 44.7L282.7 44.8L283.1 45L283.4 45.9L284.1 44.6L284.5 44.6L284.8 44.9L285.1 46.5L285.5 44.9L285.8 44.6L286.5 45.1L286.9 46.1L287.2 45.8L287.6 44.8L287.9 44.7L288.3 45.5L288.6 47L289 45.3L289.6 45.4L290 47.1L290.3 47.2L290.7 45.4L291 45.4L291.4 45.2L291.7 47.2L292.4 44.6L292.8 44.7L293.1 45.2L293.4 46.3L293.8 45.7L294.1 44.7L294.8 44.6L295.2 45.2L295.5 46.6L295.9 45.2L296.2 44.5L296.6 44.7L296.9 44.6L297.6 46.2L297.9 44.9L298.3 44.6L298.6 44.7L299 44.7L299.3 45.6L299.7 45.9L300 45L300.4 44.5L301.1 44.7L301.4 45.7L301.7 47.1L302.1 45.3L302.4 44.5L302.8 44.7L303.1 44.8L303.5 46.3L303.8 47.2L304.2 45.5L304.5 45.2L305.2 45.8L305.6 47.4L305.9 47.6L306.2 46.2L306.6 45.4L306.9 45.2L307.3 45.2L308 47L308.7 44.7L309 44.8L309.4 44.6L309.7 45.1L310 46.8L310.4 46.6L310.7 45L311.1 44.5L311.4 44.7L311.8 44.6L312.1 44.8L312.8 46.7L313.2 45.4L313.5 44.7L314.2 44.8L314.5 44.6L314.9 44.8L315.2 45.5L315.6 46.8L315.9 45.6L316.3 44.8L316.6 44.5L317.3 44.7L317.7 44.6L318 45L318.7 46.5L319.4 44.8L319.7 44.6L320.1 44.7L320.4 44.6L320.8 44.6L321.1 44.9L321.5 45.7L321.8 47.2L322.1 45.8L322.5 45L323.2 44.6L323.9 45.2L324.2 46L324.9 46.1L325.3 46.7L325.6 46.1L326.3 45.2L326.6 45.2L327.7 47.2L328 46.6L328.4 46.4L328.7 46.6L329.1 47.2L330.1 45.3L330.4 45.2L330.8 45.4L331.5 46.4L331.8 46.4L332.2 45.9L332.5 45.7L333.2 46.1L333.6 45.5L334.6 44.6L334.9 44.6L335.6 45.2L336.7 46.7L337 45.9L337.7 45L338.4 44.6L338.7 44.5L339.4 44.7L340.5 44.5L341.2 44.7L342.2 45.6L342.9 46.4L343.2 46.7L343.9 45.9L345 45L345.7 44.7L346.4 44.5L347.7 44.8L349.1 44.7L349.8 44.9L350.5 45.3L351.5 45.2L352.6 45.2L356.4 46.2L358.8 46.4L361.2 46.2L365 45.2L366.1 45.2L367.1 45.3L367.8 44.9L368.5 44.7L369.9 44.8L371.2 44.5L371.9 44.7L372.6 45L373.7 45.9L374.4 46.7L374.7 46.4L375.4 45.6L376.4 44.7L377.1 44.5L378.2 44.7L378.9 44.5L379.2 44.6L379.9 45L380.6 45.9L380.9 46.7L382 45.2L382.7 44.6L383 44.6L384 45.5L384.4 46.1L385.1 45.7L385.4 45.9L385.8 46.4L386.1 46.4L386.8 45.4L387.2 45.2L387.5 45.3L388.5 47.2L388.9 46.6L389.2 46.4L389.6 46.6L389.9 47.2L391 45.2L391.3 45.2L392 46.1L392.3 46.7L392.7 46.1L393.4 46L393.7 45.2L394.4 44.6L395.1 45L395.5 45.8L395.8 47.2L396.1 45.7L396.5 44.9L396.8 44.6L397.2 44.6L397.5 44.7L397.9 44.6L398.2 44.8L398.9 46.5L399.6 45L399.9 44.6L400.3 44.7L401 44.5L401.3 44.8L401.7 45.6L402 46.8L402.4 45.5L402.7 44.8L403.1 44.6L403.4 44.8L404.1 44.7L404.4 45.4L404.8 46.7L405.5 44.8L405.8 44.6L406.2 44.7L406.5 44.5L406.9 45L407.2 46.6L407.6 46.8L407.9 45.1L408.2 44.6L408.6 44.8L408.9 44.7L409.6 47L410.3 45.2L410.7 45.2L411 45.4L411.4 46.2L411.7 47.6L412 47.4L412.4 45.8L413.1 45.2L413.4 45.5L413.8 47.2L414.1 46.3L414.5 44.8L414.8 44.7L415.2 44.5L415.5 45.3L415.9 47.1L416.2 45.7L416.5 44.7L417.2 44.5L417.6 45L417.9 45.9L418.3 45.6L418.6 44.7L419 44.7L419.3 44.6L419.7 44.9L420 46.2L420.7 44.6L421 44.7L421.4 44.5L421.7 45.2L422.1 46.6L422.4 45.2L422.8 44.6L423.5 44.7L423.8 45.7L424.2 46.3L424.5 45.2L424.8 44.7L425.2 44.6L425.9 47.2L426.2 45.2L426.6 45.4L426.9 45.4L427.3 47.2L427.6 47.1L428 45.4L428.6 45.3L429 47L429.3 45.5L429.7 44.7L430 44.8L430.4 45.8L430.7 46.1L431.1 45.1L431.8 44.6L432.1 44.9L432.5 46.5L432.8 44.9L433.1 44.6L433.5 44.6L434.2 45.9L434.5 45L434.9 44.8L435.2 44.7L435.6 45.9L436.3 44.6L436.6 45.5L436.9 45.1L437.3 45.8L437.6 45.2L438.3 44.9L438.7 46.3L439 46.2L439.4 45.4L439.7 45.7L440.1 47L440.4 46.9L440.7 45.4L441.4 45.7L441.8 46.1L442.1 44.7L442.5 45.8L442.8 44.8L443.2 46.1L443.9 44.7L444.2 44.8L444.6 46.2L444.9 44.7L445.2 45L445.6 44.8L445.9 46.3L446.3 44.7L447 44.9L447.3 45.9L447.7 44.6L448 44.6L448.4 45.8L448.7 45.4L449 44.6L449.4 45.4L449.7 45.6L450.1 45L450.4 46.2L450.8 45.5L451.1 46.2L451.5 46.1L451.8 45.6L452.2 46L452.5 44.9L452.9 45.7L453.2 45.3L453.5 44.6L453.9 45.6L454.2 45.1L454.6 44.7L455.3 45.7L455.6 44.6L456 44.5L456.3 45.5L456.7 44.9L457 44.7L457.3 44.8L457.7 45.5L458 44.9L458.4 44.6L458.7 46.3L459.1 44.6L459.4 44.6L459.8 46L460.1 44.9L460.5 45.1L460.8 46.3L461.2 45.7L461.5 45.7L461.8 46.3L462.2 45L462.5 45L462.9 45.5L463.2 44.7L463.6 45.3L463.9 45.2L464.3 44.8L464.6 44.7L465 45.7L465.3 44.5L465.6 44.6L466 45.8L466.3 44.6L466.7 44.6L467 46L467.4 44.5L467.7 44.7L468.1 45.7L468.4 45L468.8 44.6L469.1 45.9L469.4 44.7L470.1 46L470.5 45.6L470.8 46.4L471.2 45L471.5 44.8L471.9 45.7L472.2 44.5L472.6 44.8L472.9 45.3L473.3 44.6L473.9 45.1L474.3 44.7L474.6 44.9L475.3 44.6L475.7 45.2L476 44.8L476.4 44.6L476.7 45.5L477.1 44.6L477.4 44.7L477.7 44.9L478.1 44.9L478.4 45.8L478.8 45.9L479.5 45.7L479.8 44.9L480.2 44.8L480.5 45L480.9 44.7L481.2 45.1L481.6 44.6L481.9 44.7L482.2 45.3L482.6 44.6L482.9 44.8L483.6 44.5L484 45.4L484.3 44.7L485 44.8L485.4 44.6L485.7 45.1L486 44.9L486.4 45.5L486.7 45.4L487.1 45.8L487.4 45.2L487.8 45.3L488.1 44.6L488.5 45.5L488.8 44.6L489.2 45L489.8 44.6L490.2 44.8L490.5 44.6L490.8 44.5L490.9 44.6L491 44.5L491.2 44.6L491.6 44.8L492.3 44.7L492.6 44.8L493 44.6L493.3 45.2L493.7 44.7L494 45.8L494.3 45.3L494.7 46.2L495 45.2L495.4 45.5L495.7 44.6L496.1 45.1L496.4 44.8L496.8 44.9L497.1 44.5L497.5 44.7L498.1 44.6L498.4 46L498.5 44.9L498.6 44.5L498.8 44.5L499.2 44.9L499.5 44.6L499.9 45.1L500.2 44.6L500.6 45L500.9 44.8L501.3 45.1L501.6 45.1L502 45.6L502.3 45.1L503 44.8L503.3 44.9L503.7 44.6L504 44.9L504.4 44.5L504.7 44.8L505 44.6L505.1 44.7L505.5 48.8L505.7 45.7L506 44.7L506.1 44.7L506.4 44.6L506.8 44.8L507.1 44.7L507.5 44.8L507.8 44.6L508.2 45L508.9 45.3L509.2 45.3L509.6 44.8L509.9 44.7L510.3 44.7L510.6 44.6L510.9 44.7L511.3 44.6L511.8 44.7L511.9 45.5L512.4 53.3L512.7 47.2L512.8 45.6L513 44.9L513.4 44.6L513.7 44.7L514.1 44.6L514.7 44.6L515.1 44.8L515.4 45.3L516.5 44.8L516.8 44.7L517.2 44.8L517.5 44.6L518.2 44.5L518.4 45.4L518.6 48.2L519 59.5L519.4 48.8L519.6 45.8L519.8 44.6L519.9 44.5L520.3 44.6L521 44.5L521.3 44.8L522.4 45.1L523 44.6L523.4 44.5L523.7 44.6L524.4 44.5L524.7 46L524.9 50.2L525.4 66.9L525.9 51.4L526.1 46.8L526.3 44.8L526.4 44.6L527.2 44.6L527.9 44.6L528.6 45L529.3 44.6L530.5 44.5L530.7 45L530.8 46.5L531.1 52.2L531.7 76L532.2 54.4L532.4 48.2L532.7 45L532.8 44.5L533.8 44.6L534.8 44.8L535.5 44.6L536.4 44.5L536.6 45.1L536.8 47L537.1 54.5L537.7 86.1L538.3 58.2L538.6 49.8L538.9 45.4L539.1 44.5L540 44.6L540.7 44.7L541.4 44.6L542.2 44.5L542.4 45.3L542.6 47.7L542.9 57.3L543.7 98L544.3 62.3L544.6 51.8L544.9 46.1L545.2 44.5L546.6 44.7L547.9 44.5L548.1 45.7L548.3 48.9L548.7 61.3L549.5 110.7L550.2 68.1L550.5 54.9L550.8 47.3L551 45.3L551.1 44.5L553.5 44.5L553.7 45.6L553.9 49.3L554.3 64L554.7 89L555.2 124L555.9 73.9L556.2 58.7L556.6 48.9L556.8 45.7L556.9 44.6L558.9 44.5L559.1 46L559.4 50.1L559.8 66.7L560.2 93.5L560.8 138.5L561.5 81.2L561.9 63L562.2 50.8L562.4 46.5L562.6 44.6L562.7 44.5L564.3 44.5L564.5 46.2L564.7 51.1L565.2 71L565.7 104.2L566.2 154.3L567 89.8L567.7 54.4L568 47.7L568.2 44.8L568.3 44.5L569.6 44.5L569.7 45L569.8 46.5L570.1 52.2L570.5 74.5L571.1 112.7L571.7 170.6L572.5 99.1L573.2 58.9L573.4 49.8L573.7 45.2L573.9 44.5L574.8 44.5L575 46.5L575.3 53L575.8 78.8L576.3 120.9L577 187.4L577.8 109.7L578.5 65.4L578.8 53.4L579.1 46.4L579.3 44.6L579.9 44.5L580 45.1L580.2 47L580.4 54L581 82.2L581.5 129.5L582.2 204.3L583.1 122.4L583.7 74L584 58.5L584.3 49L584.6 45L584.7 44.5L585 44.5L585.1 45.1L585.2 47L585.5 54.8L586.1 85.4L586.7 136.4L587.4 221.2L588.3 134.8L588.9 85.4L589.5 55.2L589.7 47.5L590 44.6L590.3 47.5L590.5 55.9L591.1 89.3L591.7 144L592.6 238.5L593.4 146.9L594 94L594.6 59.8L594.9 49.6L595 47.2L595.1 46.8L595.3 50.3L595.6 61.1L596.2 97.6L597.6 254.9L599.2 101.8L599.7 63.4L600 54.5L600.1 52.6L600.2 52.2L600.4 55.8L600.6 66.1L601.2 106.3L602.7 272.1L604.3 107.3L604.8 70.5L605 62.7L605.2 60.7L605.4 63.7L605.6 72.7L606.1 111.7L607.6 288.2L609.3 112.2L609.7 81.7L609.9 74.6L610.1 72.3L610.3 75L610.5 82.6L610.9 114.6L612.6 304.5L614.3 118.2L614.7 94.1L614.9 88.6L615 87L615.2 89.4L615.4 96.5L615.8 122.8L617.5 320.2L619.2 136.6L619.6 112.3L619.7 106.1L619.9 104.5L620.1 107L620.3 114.1L620.7 141.3L622.4 334.3L624 157.4L624.4 132.6L624.6 126.5L624.8 124.7L625 127.3L625.2 135L625.6 163.2L627.2 348L628.8 180.7L629.2 155.4L629.4 149.1L629.6 147.4L629.8 149.9L630 157L630.4 184.8L632 359.9L633.6 204.9L634 180.1L634.2 174.1L634.4 172.5L634.6 174.9L634.8 181.6L635.2 208.7L636.8 371.5L638.3 230.1L638.7 207.1L638.9 201.4L639.2 199.6L639.4 201.8L639.6 208.4L640 234.3L641.2 346.3L641.6 381.3L643 257.3L643.5 235.7L643.7 230.2L643.9 228.6L644.1 230.5L644.3 236.3L644.8 260L646 361.3L646.3 389.6L647.8 284L648.2 265L648.4 260.4L648.5 259.5L648.6 259.2L648.9 261.2L649.1 266.4L649.6 286.7L650.8 376.8L651.1 397L652.4 312.9L652.9 296.2L653.1 292.3L653.2 291.4L653.4 291.1L653.6 292.6L653.8 296.6L654.3 313.3L654.8 339.8L655.5 389.2L655.8 402.5L657.1 340.5L657.6 327.9L657.8 324.9L657.9 324.1L658 324L658.3 325.1L658.5 328.5L659 340.9L660.6 406.6L661.7 368L662.2 360L662.4 358L662.5 357.5L662.6 357.3L662.9 358L663.1 359.9L663.6 367.4L665.3 409.1L666.2 394.2L666.6 390.9L666.8 390.2L667 390L667.1 390.2L667.3 390.8L667.7 393L669.3 407.3L669.6 409.3L669.8 409.8L670 409.9" stroke="#80309a" stroke-width="1.4"/>
<path d="M51.1 378.7L51.6 387.4L52.3 407.6L54.1 337.2L54.6 325.6L54.8 323.2L55 322.8L55.1 323L55.3 324.8L55.5 328L55.9 340.7L57 400.9L57.4 383.5L58.6 294.7L59.1 275.3L59.4 270.4L59.5 269.3L59.6 269.1L59.8 270.7L60 275.2L60.4 293.5L61.8 389.7L62.2 360L63.4 251.1L63.8 226.3L64 220.3L64.2 218.4L64.5 220.2L64.7 225.7L65.1 247.7L66.5 374.9L67 333.2L68.1 208.7L68.5 181.4L68.7 174.6L69 172.2L69.1 174L69.3 179.6L69.7 203.4L71.3 355.8L72.9 170.3L73.3 142L73.5 134.4L73.7 131.8L73.8 133.4L74 139.3L74.4 164L76 334.3L77.7 137.1L78 108.4L78.2 100.9L78.4 98.2L78.6 100.1L78.8 105.9L79.1 129.6L80.8 310.1L82.4 115.2L82.8 83.1L83 75.1L83.2 72.3L83.3 72.6L83.4 74.3L83.6 81.5L84 112.6L85.6 283L87.1 107.7L87.6 66.1L87.8 57.6L88 54.7L88.1 54.9L88.2 56.6L88.3 64L88.9 103.9L90.4 255.8L91.8 96.4L92.3 59.5L92.6 49.4L92.8 45.7L93 48.9L93.3 58.2L93.9 91L94.5 142.9L95.2 226.9L96 137.3L96.5 86.7L97 55.1L97.3 47L97.5 44.5L97.8 44.5L97.9 44.9L98.2 48.9L98.7 73.3L99.3 120.8L100.1 198.6L100.7 127.6L101.2 81.2L101.7 53.7L102 46.7L102.2 44.5L103 44.5L103.1 45.4L103.4 50.3L103.6 59.7L104.2 98.3L105 170.2L105.6 112.9L106 74.6L106.5 52.3L106.7 46.4L106.9 44.5L108.1 44.5L108.2 44.7L108.4 47.1L108.6 52.3L109.2 82.5L110 143.4L110.4 99.4L110.8 68.7L111.2 50.5L111.4 46.1L111.6 44.5L113.4 44.6L113.5 45.6L113.7 48.3L114 57.4L114.3 71.8L114.9 119.4L115.7 62.7L116 49L116.2 45.6L116.4 44.5L118.6 44.5L118.9 46.2L119.1 52.1L119.4 63L120 97.4L120.6 57.1L120.9 47.5L121 45.3L121.2 44.5L124 44.5L124.1 45.1L124.3 48.6L124.6 55.9L125 79.3L125.5 53L125.8 46.6L125.9 45L126 44.5L129.4 44.5L129.4 44.7L129.6 46.4L129.8 50.3L130.2 64.3L130.6 49.2L130.7 45.5L130.9 44.5L134.8 44.6L135.1 47L135.4 53.5L135.6 46.6L135.7 45L135.9 44.5L140.3 44.5L140.5 45.1L140.6 46.8L140.8 45L140.9 44.5L164.1 44.5L165.2 44.6L170 44.5L171 44.8L172.1 44.5L175.5 44.5L176.2 44.6L176.9 45L177.6 44.6L178 44.5L181.8 44.5L182.1 44.6L182.8 45.1L183.1 45L183.8 44.6L188 44.6L188.3 44.7L189 45.4L189.4 45.2L189.7 44.7L190.4 44.5L191.4 44.5L191.8 44.7L192.1 44.5L193.2 44.5L193.5 44.7L193.9 44.5L194.6 44.7L194.9 45L195.2 45.7L195.9 44.9L196.6 44.6L197 44.7L197.3 44.5L198 44.6L198.4 44.5L198.7 44.7L199.1 44.6L199.4 44.9L199.7 44.5L200.1 44.7L200.4 44.6L201.1 44.7L201.8 45.7L202.2 45.7L202.5 45L202.9 44.8L203.2 44.5L203.5 44.7L203.9 44.6L205.3 44.7L205.6 44.6L206 44.7L206.3 44.6L206.7 44.7L207 44.5L207.3 44.7L207.7 44.6L208 45.2L208.4 45.6L208.7 45.8L209.8 44.6L210.1 44.8L210.5 44.5L210.8 44.8L211.2 44.6L211.5 44.8L211.8 44.5L212.2 44.8L212.5 44.7L212.9 44.7L213.2 44.6L213.6 44.7L214.3 44.6L215 45L215.3 45.6L215.6 46L216 45.7L216.7 44.6L217.4 44.7L217.7 44.6L218.1 44.7L218.4 44.5L218.8 44.9L219.1 44.6L219.5 45.2L219.8 44.6L220.1 45L220.5 44.6L220.8 44.7L221.2 44.6L221.5 44.7L222.2 45L222.6 45.8L222.9 46.2L223.3 46L223.6 45.1L223.9 44.7L225 44.7L225.3 45L225.7 44.7L226 45.1L226.4 44.5L227.1 44.8L227.4 44.5L227.8 45.4L228.1 44.6L228.8 44.9L229.1 44.5L229.5 44.8L230.5 46.4L230.9 46.1L231.6 44.8L231.9 44.9L232.2 44.8L232.6 44.6L232.9 45.5L233.3 44.5L233.6 45L234 45L234.7 45.2L235 45L235.4 44.6L235.7 45.6L236 44.6L236.4 44.8L236.7 44.6L237.1 44.6L237.4 44.7L237.8 45.1L238.5 46.3L238.8 46.3L239.2 46L239.5 45L239.9 44.7L240.2 44.7L240.5 44.5L241.2 45L241.6 44.7L241.9 45L242.6 44.6L243 45.4L243.3 44.7L243.7 44.5L244 45.5L244.3 44.6L244.7 44.6L245 44.7L245.4 44.6L246.1 44.9L246.8 46.1L247.1 46.4L247.5 46.1L248.2 45L248.5 44.6L248.8 44.6L249.2 44.7L249.5 44.6L250.2 44.9L250.6 44.7L250.9 45.9L251.3 44.5L251.6 44.6L252 46L252.3 44.5L252.6 44.7L253 45.9L253.3 44.6L253.7 45.1L254 44.6L255.1 44.9L255.4 45.2L256.1 46.4L256.8 46.2L257.1 45.3L257.5 45.1L257.8 44.7L258.2 44.5L258.5 44.7L258.9 44.6L259.6 44.5L259.9 44.8L260.3 46.1L260.6 44.8L261.6 45.4L262.3 44.7L262.7 44.6L263 44.9L263.4 44.6L263.7 44.7L264.1 44.9L264.4 44.6L264.7 44.6L265.1 45.2L265.4 45.5L265.8 46.1L266.1 46.4L266.5 47.3L266.8 45.9L267.5 45L268.2 44.6L268.9 44.7L269.2 45.1L269.6 44.7L269.9 44.7L270.3 45.2L270.6 44.6L271.3 45.1L271.7 44.7L272 46.3L272.4 44.9L273.4 44.6L273.7 45L274.1 44.6L274.4 44.6L274.8 44.8L275.1 45.2L275.5 44.6L275.8 44.7L276.2 45.8L276.5 45.6L277.2 46.3L277.5 46.3L277.9 46.3L278.6 45.1L278.9 45.3L279.3 45.1L279.6 44.6L280 44.7L280.3 44.6L280.7 44.7L281 44.6L281.7 44.5L282.4 44.7L282.7 44.6L283.4 44.7L283.8 45.7L284.1 44.6L285.5 44.8L286.2 44.6L286.9 44.7L287.2 44.6L287.6 44.9L287.9 44.7L288.6 45L289.3 46.2L289.6 46.1L290 46.4L290.3 47.1L290.7 46.6L291 45.7L291.4 45.4L291.7 45.4L292.1 44.7L292.8 44.8L293.4 44.7L293.8 44.8L294.1 44.7L294.5 46L294.8 44.9L295.2 44.5L295.5 44.6L295.9 44.9L296.2 45.6L296.6 44.7L296.9 44.5L297.6 44.7L297.9 45.5L298.3 44.6L299.3 44.6L299.7 45.3L300.4 44.5L300.7 44.7L301.1 44.5L301.4 45L301.7 45.9L302.1 44.7L302.4 44.6L302.8 45L303.1 44.9L303.5 45.9L303.8 45.2L304.2 45.8L304.5 45.6L305.2 46.4L305.6 46.5L306.6 46L306.9 46.2L307.3 46.1L307.6 45.2L308 44.9L308.3 45.3L308.7 45L309 45.5L309.4 44.8L309.7 44.5L310 44.8L310.4 44.6L310.7 44.6L311.4 44.9L311.8 44.5L313.2 44.7L314.2 44.7L314.5 44.5L314.9 44.8L315.2 44.6L316.6 44.6L317.3 44.6L317.7 44.9L318 44.6L318.3 44.7L318.7 44.5L319 44.8L319.4 44.8L319.7 44.6L320.1 44.6L320.4 44.9L320.8 44.5L321.1 44.7L321.5 44.5L322.1 44.8L322.5 45.3L322.8 44.8L323.2 44.6L324.2 44.7L324.9 45.2L325.6 45.2L326.3 45.8L327 47L327.3 46.5L327.7 46.5L328 46.8L328.4 47.4L329.1 46.5L329.4 46.2L330.1 46.4L330.4 45.8L330.8 45.5L331.1 45.5L331.5 45.7L331.8 45.5L332.5 44.8L332.9 44.8L333.2 44.9L333.6 44.6L333.9 44.7L334.6 44.6L334.9 44.9L335.3 44.6L335.6 44.5L336 44.7L336.7 45.2L337 44.8L337.4 44.8L337.7 44.9L338.1 45.2L338.4 45.1L338.7 44.8L339.1 44.6L339.4 44.5L339.8 44.7L340.5 44.5L340.8 44.7L341.2 45L341.5 45.1L342.2 45.7L342.5 45.7L343.2 45L344.3 44.6L345 44.7L345.7 44.6L347.7 44.5L348.8 44.7L349.5 45L350.8 45.7L351.9 46.4L353.3 45.7L354.3 45.4L355.7 45.1L357.4 44.9L360.2 44.9L362.3 45.2L364 45.6L365.7 46.4L366.8 45.7L368.1 45L368.8 44.7L369.9 44.5L371.9 44.6L372.6 44.7L373.3 44.6L374.4 45L375.1 45.7L375.4 45.7L376.1 45.1L376.4 45L376.8 44.7L377.1 44.5L377.8 44.7L378.2 44.5L378.5 44.6L378.9 44.8L379.2 45.1L379.5 45.2L379.9 44.9L380.2 44.8L380.6 44.8L380.9 45.2L381.6 44.7L382 44.5L382.3 44.6L382.7 44.9L383 44.6L383.7 44.7L384 44.6L384.4 44.9L384.7 44.8L385.1 44.8L385.8 45.5L386.1 45.7L386.5 45.5L386.8 45.5L387.2 45.8L387.5 46.4L388.2 46.2L388.5 46.5L389.2 47.4L389.6 46.8L389.9 46.5L390.3 46.5L390.6 47L391.3 45.8L392 45.2L392.7 45.2L393.4 44.7L394.4 44.6L394.8 44.8L395.1 45.3L395.5 44.8L396.1 44.5L396.5 44.7L396.8 44.5L397.2 44.9L397.5 44.6L397.9 44.6L398.2 44.8L398.6 44.8L398.9 44.5L399.3 44.7L399.6 44.6L399.9 44.9L400.3 44.6L401 44.6L402.4 44.6L402.7 44.8L403.1 44.5L403.4 44.7L404.4 44.7L405.8 44.5L406.2 44.9L406.9 44.6L407.2 44.6L407.6 44.8L407.9 44.5L408.2 44.8L408.6 45.5L408.9 45L409.3 45.3L409.6 44.9L410 45.2L410.3 46.1L410.7 46.2L411 46L412 46.5L412.4 46.4L413.1 45.6L413.4 45.8L413.8 45.2L414.1 45.9L414.5 44.9L414.8 45L415.2 44.6L415.5 44.7L415.9 45.9L416.2 45L416.5 44.5L416.9 44.7L417.2 44.5L417.9 45.3L418.3 44.6L419.3 44.6L419.7 45.5L420 44.7L420.7 44.5L421 44.7L421.4 45.6L421.7 44.9L422.1 44.6L422.4 44.5L422.8 44.9L423.1 46L423.5 44.7L423.8 44.8L424.2 44.7L424.8 44.8L425.5 44.7L425.9 45.4L426.2 45.4L426.6 45.7L426.9 46.6L427.3 47.1L427.6 46.4L428 46.1L428.3 46.2L429 45L429.7 44.7L430 44.9L430.4 44.6L430.7 44.7L431.4 44.6L432.1 44.8L433.5 44.6L433.8 45.7L434.2 44.7L434.9 44.6L435.2 44.7L435.9 44.5L436.6 44.6L436.9 44.7L437.3 44.6L437.6 44.7L438 44.6L438.3 45.1L438.7 45.3L439 45.1L439.7 46.3L440.1 46.3L440.4 46.3L441.1 45.6L441.4 45.8L441.8 44.7L442.1 44.6L442.5 45.2L442.8 44.8L443.2 44.6L443.5 44.6L443.9 45L444.2 44.6L445.2 44.9L445.6 46.3L445.9 44.7L446.3 45.1L447 44.6L447.3 45.2L447.7 44.7L448 44.7L448.4 45.1L448.7 44.7L449.4 44.6L450.1 45L450.8 45.9L451.1 47.3L451.5 46.4L451.8 46.1L452.2 45.5L452.5 45.2L452.9 44.6L453.2 44.6L453.5 44.9L453.9 44.7L454.2 44.6L454.6 44.9L454.9 44.6L455.3 44.7L456 45.4L457 44.8L457.3 46.1L457.7 44.8L458 44.5L458.7 44.6L459.1 44.7L459.4 44.5L459.8 44.7L460.1 45.1L460.5 45.3L460.8 46.2L461.5 46.4L462.2 45.2L462.5 44.9L463.6 44.6L463.9 45.1L464.3 44.6L464.6 45.9L465 44.7L465.3 44.5L465.6 46L466 44.6L466.3 44.5L466.7 45.9L467 44.7L467.4 44.9L468.1 44.6L468.4 44.7L468.8 44.6L469.1 44.6L469.4 45L470.1 46.1L470.5 46.4L470.8 46.1L471.5 44.9L472.2 44.6L472.6 44.7L472.9 44.6L473.3 44.6L473.6 45.5L473.9 44.5L474.3 44.7L474.6 45.4L475 44.6L475.7 45L476 44.7L476.4 45L477.1 44.5L477.4 44.7L477.7 44.7L478.1 45L478.4 46L478.8 46.3L479.1 46.3L479.8 45.1L480.2 44.7L480.5 44.6L480.9 44.6L481.2 44.8L481.6 44.6L481.9 45.6L482.2 44.6L482.6 45L482.9 45.2L483.6 45L484 45L484.3 44.5L484.7 45.5L485 44.6L485.4 44.8L485.7 44.9L486 44.8L486.7 46.1L487.1 46.4L488.1 44.8L488.5 44.5L488.8 44.9L489.5 44.6L489.8 45.4L490.2 44.5L490.5 44.8L491.2 44.5L491.6 45.1L491.9 44.7L492.3 45L492.6 44.7L493.7 44.7L494 45.1L494.3 46L494.7 46.2L495 45.8L495.4 45L496.1 44.7L496.4 44.6L496.8 44.7L497.1 44.6L497.5 45L497.8 44.6L498.1 45.2L498.5 44.6L498.8 44.9L499.2 44.5L499.5 44.7L499.9 44.6L500.2 44.7L500.9 44.6L501.6 45.7L502 46L502.3 45.6L502.6 45L503.3 44.6L504 44.7L504.4 44.6L504.7 44.7L505.1 44.7L505.4 44.8L505.8 44.5L506.1 44.8L506.4 44.6L506.8 44.8L507.1 44.5L507.5 44.8L507.8 44.6L508.9 45.8L509.2 45.6L509.6 45.2L509.9 44.6L510.3 44.7L510.6 44.5L510.9 44.7L511.3 44.6L511.6 44.7L512 44.6L512.3 44.7L513.7 44.6L514.1 44.7L514.4 44.5L514.7 44.8L515.1 45L515.4 45.7L515.8 45.7L516.5 44.7L517.2 44.6L517.5 44.7L517.9 44.5L518.2 44.9L518.5 44.6L518.9 44.7L519.2 44.5L519.6 44.6L520.3 44.5L520.6 44.7L521 44.6L521.7 44.9L522.4 45.7L522.7 45L523 44.7L523.7 44.5L524.1 44.7L524.4 44.5L525.5 44.5L525.8 44.7L526.2 44.5L527.2 44.5L527.9 44.7L528.2 45.2L528.6 45.4L529.3 44.7L529.6 44.6L533.8 44.6L534.5 45L534.8 45.1L535.5 44.6L535.8 44.5L539.6 44.5L540 44.6L540.7 45L541.4 44.6L542.1 44.5L545.5 44.5L546.6 44.8L547.6 44.5L552.4 44.6L553.5 44.5L576.7 44.5L576.8 45L577 46.8L577.1 45.1L577.3 44.5L581.7 44.5L581.9 45L582 46.6L582.2 53.5L582.5 47L582.8 44.6L586.7 44.5L586.9 45.5L587 49.2L587.4 64.3L587.8 50.3L588 46.4L588.2 44.7L588.2 44.5L591.6 44.5L591.7 45L591.8 46.6L592.1 53L592.6 79.3L593 55.9L593.3 48.6L593.5 45.1L593.6 44.5L596.4 44.5L596.6 45.3L596.7 47.5L597 57.1L597.6 97.4L598.2 63L598.5 52.1L598.7 46.2L599 44.5L601.2 44.5L601.4 45.6L601.6 49L601.9 62.7L602.7 119.4L603.3 71.8L603.6 57.4L603.9 48.3L604.1 45.6L604.2 44.6L606 44.5L606.2 46.1L606.4 50.5L606.8 68.7L607.2 99.4L607.6 143.4L608.4 82.5L609 52.3L609.2 47.1L609.4 44.7L609.5 44.5L610.7 44.5L610.9 46.4L611.1 52.3L611.6 74.6L612 112.9L612.6 170.2L613.4 98.3L614 59.7L614.2 50.3L614.5 45.4L614.6 44.5L615.4 44.5L615.6 46.7L615.9 53.7L616.4 81.2L616.9 127.6L617.5 198.6L618.3 120.8L618.9 73.3L619.4 48.9L619.7 44.9L619.8 44.5L620.1 44.5L620.3 47L620.6 55.1L621.1 86.7L621.6 137.3L622.4 226.9L623.2 141.1L623.8 89.7L624.3 57.4L624.6 48.1L624.7 46L624.8 45.7L624.8 45.8L625 50.4L625.3 61.2L625.8 97.9L627.2 255.8L628.7 102.4L629.3 63.1L629.5 56.2L629.6 54.7L629.6 54.6L629.6 54.8L629.8 58.2L630 67.1L630.5 109.4L632 283L633.6 112.6L634 81.5L634.2 74.3L634.3 72.6L634.4 72.3L634.6 75.1L634.8 83.1L635.2 115.2L636.8 310.1L638.5 128L638.8 105.2L639 99.7L639.1 98.5L639.2 98.3L639.4 100.9L639.6 108.4L639.9 137.1L641.6 334.3L643.2 164L643.6 139.3L643.8 133.4L643.9 131.8L644.1 134.4L644.3 142L644.7 170.3L646.3 355.8L647.9 203.4L648.3 179.6L648.5 173.7L648.6 172.6L648.7 172.2L648.9 175L649.1 182.1L649.5 210.1L650.6 333.2L651.1 374.9L652.5 246.5L653 225.1L653.2 219.9L653.3 218.7L653.4 218.4L653.6 220.6L653.8 226.9L654.2 251.1L655.4 360L655.8 389.7L657.2 292.6L657.6 274.7L657.8 270.5L657.9 269.4L658 269.1L658.3 270.9L658.5 275.8L659 294.7L660.2 383.5L660.6 400.9L661.8 338.7L662.2 326.7L662.4 323.7L662.5 323L662.7 322.8L662.9 323.9L663.1 327L663.6 339.3L665.3 407.6L666.2 383.5L666.6 378.4L666.8 377.1L667 376.7L667.1 377.1L667.3 378.1L667.7 381.8L669.3 405.8L669.6 408.8L669.8 409.7L670 409.9" stroke="#6aae2f" stroke-width="1.4"/>
</g>
<path d="M47.6 8.0 H670.0 V409.9 H47.6 ZM47.6 409.9 v-6.2M47.6 8.0 v6.2M116.8 409.9 v-6.2M116.8 8.0 v6.2M185.9 409.9 v-6.2M185.9 8.0 v6.2M255.1 409.9 v-6.2M255.1 8.0 v6.2M324.2 409.9 v-6.2M324.2 8.0 v6.2M393.4 409.9 v-6.2M393.4 8.0 v6.2M462.5 409.9 v-6.2M462.5 8.0 v6.2M531.7 409.9 v-6.2M531.7 8.0 v6.2M600.8 409.9 v-6.2M600.8 8.0 v6.2M670 409.9 v-6.2M670 8.0 v6.2M47.6 409.9 h6.2M670.0 409.9 h-6.2M47.6 373.4 h6.2M670.0 373.4 h-6.2M47.6 336.8 h6.2M670.0 336.8 h-6.2M47.6 300.3 h6.2M670.0 300.3 h-6.2M47.6 263.8 h6.2M670.0 263.8 h-6.2M47.6 227.2 h6.2M670.0 227.2 h-6.2M47.6 190.7 h6.2M670.0 190.7 h-6.2M47.6 154.1 h6.2M670.0 154.1 h-6.2M47.6 117.6 h6.2M670.0 117.6 h-6.2M47.6 81.1 h6.2M670.0 81.1 h-6.2M47.6 44.5 h6.2M670.0 44.5 h-6.2M47.6 8 h6.2M670.0 8 h-6.2" stroke="#333" stroke-width="1.1" fill="none"/>
<g opacity="0.999">
<text class="tk" x="47.6" y="433.2" text-anchor="middle">0</text>
<text class="tk" x="116.8" y="433.2" text-anchor="middle">20</text>
<text class="tk" x="185.9" y="433.2" text-anchor="middle">40</text>
<text class="tk" x="255.1" y="433.2" text-anchor="middle">60</text>
<text class="tk" x="324.2" y="433.2" text-anchor="middle">80</text>
<text class="tk" x="393.4" y="433.2" text-anchor="middle">100</text>
<text class="tk" x="462.5" y="433.2" text-anchor="middle">120</text>
<text class="tk" x="531.7" y="433.2" text-anchor="middle">140</text>
<text class="tk" x="600.8" y="433.2" text-anchor="middle">160</text>
<text class="tk" x="670" y="433.2" text-anchor="middle">180</text>
<text class="tk" x="42" y="416.2" text-anchor="end">0</text>
<text class="tk" x="42" y="379.7" text-anchor="end">2</text>
<text class="tk" x="42" y="343.1" text-anchor="end">4</text>
<text class="tk" x="42" y="306.6" text-anchor="end">6</text>
<text class="tk" x="42" y="270.1" text-anchor="end">8</text>
<text class="tk" x="42" y="233.5" text-anchor="end">10</text>
<text class="tk" x="42" y="197" text-anchor="end">12</text>
<text class="tk" x="42" y="160.4" text-anchor="end">14</text>
<text class="tk" x="42" y="123.9" text-anchor="end">16</text>
<text class="tk" x="42" y="87.4" text-anchor="end">18</text>
<text class="tk" x="42" y="50.8" text-anchor="end">20</text>
<text class="tk" x="42" y="14.3" text-anchor="end">22</text>
<text class="lb" style="font-size:20.45px" x="360.2" y="455.8" text-anchor="middle">Elevation angle (deg)</text>
<text class="lb" transform="translate(15.6 208.8) rotate(-90)" text-anchor="middle">SNR peak-to-peak amplitude (V/V)</text>
</g>
<rect x="455.5" y="13.2" width="209.5" height="100.0" fill="#fff" stroke="#333" stroke-width="1.1"/>
<g opacity="0.999">
<path d="M457.6 23.9 H477.2" stroke="#3677c8" stroke-width="1.35" fill="none"/>
<text class="lg" x="478.6" y="29.8">motion amplitude: 1 cm</text>
<path d="M457.6 43.6 H477.2" stroke="#d9512c" stroke-width="1.35" fill="none"/>
<text class="lg" x="478.6" y="49.5">motion amplitude: 2 cm</text>
<path d="M457.6 63.4 H477.2" stroke="#000000" stroke-width="1.35" fill="none"/>
<text class="lg" x="478.6" y="69.3">motion amplitude: 3 cm</text>
<path d="M457.6 83.2 H477.2" stroke="#80309a" stroke-width="1.35" fill="none"/>
<text class="lg" x="478.6" y="89.1">motion amplitude: 6 cm</text>
<path d="M457.6 102.9 H477.2" stroke="#6aae2f" stroke-width="1.35" fill="none"/>
<text class="lg" x="478.6" y="108.8">motion amplitude: 10 cm</text>
</g>
</svg>
</body></html>
